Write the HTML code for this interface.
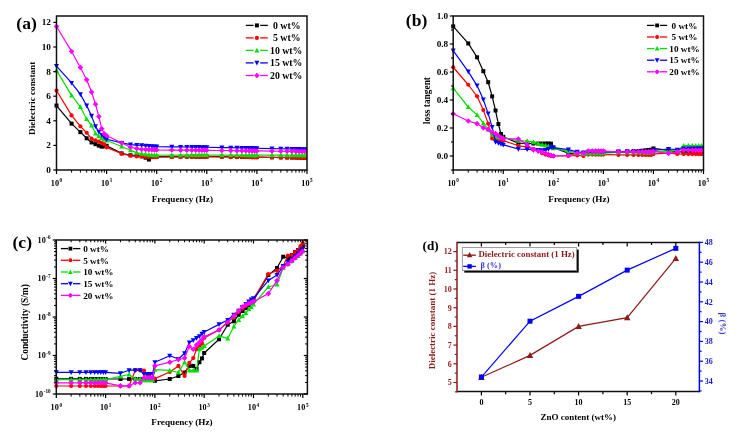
<!DOCTYPE html><html><head><meta charset="utf-8"><style>html,body{margin:0;padding:0;background:#fff;}body{width:740px;height:438px;overflow:hidden;font-family:"Liberation Serif",serif;}svg{display:block;will-change:transform;}</style></head><body><svg width="740" height="438" viewBox="0 0 740 438"><rect width="740" height="438" fill="#fff"/><clipPath id="ca"><rect x="53.5" y="16.0" width="253.5" height="154.0"/></clipPath><g clip-path="url(#ca)"><polyline points="56.50,105.55 71.58,123.63 80.40,132.12 86.66,138.27 91.52,142.45 95.49,144.17 98.84,145.65 101.74,146.63 104.31,146.38 106.60,145.77 121.68,153.40 130.50,155.24 136.76,155.36 141.62,156.22 145.59,157.70 148.94,159.54 151.84,157.09 154.41,156.84 156.70,156.72 171.78,156.64 180.60,156.60 186.86,156.57 191.72,156.54 195.69,156.52 199.04,156.51 201.94,156.49 204.51,156.48 206.80,156.47 221.88,156.66 230.70,156.76 236.96,156.84 241.82,156.90 245.79,156.95 249.14,156.99 252.04,157.03 254.61,157.06 256.90,157.09 271.98,157.27 280.80,157.38 287.06,157.46 291.92,157.51 295.89,157.56 299.24,157.60 302.14,157.64 304.71,157.67 307.00,157.70" fill="none" stroke="#000000" stroke-width="1.2" stroke-linejoin="round"/><rect x="54.50" y="103.55" width="4.00" height="4.00" fill="#000000"/><rect x="69.58" y="121.63" width="4.00" height="4.00" fill="#000000"/><rect x="78.40" y="130.12" width="4.00" height="4.00" fill="#000000"/><rect x="84.66" y="136.27" width="4.00" height="4.00" fill="#000000"/><rect x="89.52" y="140.45" width="4.00" height="4.00" fill="#000000"/><rect x="93.49" y="142.17" width="4.00" height="4.00" fill="#000000"/><rect x="96.84" y="143.65" width="4.00" height="4.00" fill="#000000"/><rect x="99.74" y="144.63" width="4.00" height="4.00" fill="#000000"/><rect x="102.31" y="144.38" width="4.00" height="4.00" fill="#000000"/><rect x="104.60" y="143.77" width="4.00" height="4.00" fill="#000000"/><rect x="119.68" y="151.40" width="4.00" height="4.00" fill="#000000"/><rect x="128.50" y="153.24" width="4.00" height="4.00" fill="#000000"/><rect x="134.76" y="153.36" width="4.00" height="4.00" fill="#000000"/><rect x="139.62" y="154.22" width="4.00" height="4.00" fill="#000000"/><rect x="143.59" y="155.70" width="4.00" height="4.00" fill="#000000"/><rect x="146.94" y="157.54" width="4.00" height="4.00" fill="#000000"/><rect x="149.84" y="155.09" width="4.00" height="4.00" fill="#000000"/><rect x="152.41" y="154.84" width="4.00" height="4.00" fill="#000000"/><rect x="154.70" y="154.72" width="4.00" height="4.00" fill="#000000"/><rect x="169.78" y="154.64" width="4.00" height="4.00" fill="#000000"/><rect x="178.60" y="154.60" width="4.00" height="4.00" fill="#000000"/><rect x="184.86" y="154.57" width="4.00" height="4.00" fill="#000000"/><rect x="189.72" y="154.54" width="4.00" height="4.00" fill="#000000"/><rect x="193.69" y="154.52" width="4.00" height="4.00" fill="#000000"/><rect x="197.04" y="154.51" width="4.00" height="4.00" fill="#000000"/><rect x="199.94" y="154.49" width="4.00" height="4.00" fill="#000000"/><rect x="202.51" y="154.48" width="4.00" height="4.00" fill="#000000"/><rect x="204.80" y="154.47" width="4.00" height="4.00" fill="#000000"/><rect x="219.88" y="154.66" width="4.00" height="4.00" fill="#000000"/><rect x="228.70" y="154.76" width="4.00" height="4.00" fill="#000000"/><rect x="234.96" y="154.84" width="4.00" height="4.00" fill="#000000"/><rect x="239.82" y="154.90" width="4.00" height="4.00" fill="#000000"/><rect x="243.79" y="154.95" width="4.00" height="4.00" fill="#000000"/><rect x="247.14" y="154.99" width="4.00" height="4.00" fill="#000000"/><rect x="250.04" y="155.03" width="4.00" height="4.00" fill="#000000"/><rect x="252.61" y="155.06" width="4.00" height="4.00" fill="#000000"/><rect x="254.90" y="155.09" width="4.00" height="4.00" fill="#000000"/><rect x="269.98" y="155.27" width="4.00" height="4.00" fill="#000000"/><rect x="278.80" y="155.38" width="4.00" height="4.00" fill="#000000"/><rect x="285.06" y="155.46" width="4.00" height="4.00" fill="#000000"/><rect x="289.92" y="155.51" width="4.00" height="4.00" fill="#000000"/><rect x="293.89" y="155.56" width="4.00" height="4.00" fill="#000000"/><rect x="297.24" y="155.60" width="4.00" height="4.00" fill="#000000"/><rect x="300.14" y="155.64" width="4.00" height="4.00" fill="#000000"/><rect x="302.71" y="155.67" width="4.00" height="4.00" fill="#000000"/><rect x="305.00" y="155.70" width="4.00" height="4.00" fill="#000000"/><polyline points="56.50,90.54 71.58,115.39 80.40,126.34 86.66,132.73 91.52,138.63 95.49,140.23 98.84,141.71 101.74,142.94 104.31,144.17 106.60,147.37 121.68,153.64 130.50,155.73 136.76,156.47 141.62,156.72 145.59,156.81 148.94,156.90 151.84,156.97 154.41,157.03 156.70,157.09 171.78,157.01 180.60,156.97 186.86,156.94 191.72,156.91 195.69,156.89 199.04,156.88 201.94,156.86 204.51,156.85 206.80,156.84 221.88,156.99 230.70,157.07 236.96,157.14 241.82,157.18 245.79,157.22 249.14,157.25 252.04,157.28 254.61,157.31 256.90,157.33 271.98,157.48 280.80,157.57 287.06,157.63 291.92,157.67 295.89,157.71 299.24,157.75 302.14,157.78 304.71,157.80 307.00,157.82" fill="none" stroke="#ff0000" stroke-width="1.2" stroke-linejoin="round"/><circle cx="56.50" cy="90.54" r="2.10" fill="#ff0000"/><circle cx="71.58" cy="115.39" r="2.10" fill="#ff0000"/><circle cx="80.40" cy="126.34" r="2.10" fill="#ff0000"/><circle cx="86.66" cy="132.73" r="2.10" fill="#ff0000"/><circle cx="91.52" cy="138.63" r="2.10" fill="#ff0000"/><circle cx="95.49" cy="140.23" r="2.10" fill="#ff0000"/><circle cx="98.84" cy="141.71" r="2.10" fill="#ff0000"/><circle cx="101.74" cy="142.94" r="2.10" fill="#ff0000"/><circle cx="104.31" cy="144.17" r="2.10" fill="#ff0000"/><circle cx="106.60" cy="147.37" r="2.10" fill="#ff0000"/><circle cx="121.68" cy="153.64" r="2.10" fill="#ff0000"/><circle cx="130.50" cy="155.73" r="2.10" fill="#ff0000"/><circle cx="136.76" cy="156.47" r="2.10" fill="#ff0000"/><circle cx="141.62" cy="156.72" r="2.10" fill="#ff0000"/><circle cx="145.59" cy="156.81" r="2.10" fill="#ff0000"/><circle cx="148.94" cy="156.90" r="2.10" fill="#ff0000"/><circle cx="151.84" cy="156.97" r="2.10" fill="#ff0000"/><circle cx="154.41" cy="157.03" r="2.10" fill="#ff0000"/><circle cx="156.70" cy="157.09" r="2.10" fill="#ff0000"/><circle cx="171.78" cy="157.01" r="2.10" fill="#ff0000"/><circle cx="180.60" cy="156.97" r="2.10" fill="#ff0000"/><circle cx="186.86" cy="156.94" r="2.10" fill="#ff0000"/><circle cx="191.72" cy="156.91" r="2.10" fill="#ff0000"/><circle cx="195.69" cy="156.89" r="2.10" fill="#ff0000"/><circle cx="199.04" cy="156.88" r="2.10" fill="#ff0000"/><circle cx="201.94" cy="156.86" r="2.10" fill="#ff0000"/><circle cx="204.51" cy="156.85" r="2.10" fill="#ff0000"/><circle cx="206.80" cy="156.84" r="2.10" fill="#ff0000"/><circle cx="221.88" cy="156.99" r="2.10" fill="#ff0000"/><circle cx="230.70" cy="157.07" r="2.10" fill="#ff0000"/><circle cx="236.96" cy="157.14" r="2.10" fill="#ff0000"/><circle cx="241.82" cy="157.18" r="2.10" fill="#ff0000"/><circle cx="245.79" cy="157.22" r="2.10" fill="#ff0000"/><circle cx="249.14" cy="157.25" r="2.10" fill="#ff0000"/><circle cx="252.04" cy="157.28" r="2.10" fill="#ff0000"/><circle cx="254.61" cy="157.31" r="2.10" fill="#ff0000"/><circle cx="256.90" cy="157.33" r="2.10" fill="#ff0000"/><circle cx="271.98" cy="157.48" r="2.10" fill="#ff0000"/><circle cx="280.80" cy="157.57" r="2.10" fill="#ff0000"/><circle cx="287.06" cy="157.63" r="2.10" fill="#ff0000"/><circle cx="291.92" cy="157.67" r="2.10" fill="#ff0000"/><circle cx="295.89" cy="157.71" r="2.10" fill="#ff0000"/><circle cx="299.24" cy="157.75" r="2.10" fill="#ff0000"/><circle cx="302.14" cy="157.78" r="2.10" fill="#ff0000"/><circle cx="304.71" cy="157.80" r="2.10" fill="#ff0000"/><circle cx="307.00" cy="157.82" r="2.10" fill="#ff0000"/><polyline points="56.50,70.37 71.58,95.34 80.40,106.90 86.66,119.08 91.52,125.47 95.49,133.35 98.84,136.18 101.74,138.02 104.31,139.25 106.60,140.48 121.68,146.51 130.50,150.32 136.76,152.66 141.62,153.76 145.59,154.26 148.94,154.62 151.84,154.99 154.41,155.24 156.70,155.24 171.78,155.17 180.60,155.12 186.86,155.09 191.72,155.07 195.69,155.05 199.04,155.03 201.94,155.02 204.51,155.01 206.80,154.99 221.88,155.03 230.70,155.05 236.96,155.07 241.82,155.08 245.79,155.09 249.14,155.10 252.04,155.11 254.61,155.11 256.90,155.12 271.98,155.15 280.80,155.18 287.06,155.19 291.92,155.20 295.89,155.21 299.24,155.22 302.14,155.23 304.71,155.23 307.00,155.24" fill="none" stroke="#00e000" stroke-width="1.2" stroke-linejoin="round"/><path d="M56.50,67.67L59.00,72.41L54.00,72.41Z" fill="#00e000"/><path d="M71.58,92.64L74.08,97.38L69.08,97.38Z" fill="#00e000"/><path d="M80.40,104.20L82.90,108.94L77.90,108.94Z" fill="#00e000"/><path d="M86.66,116.38L89.16,121.12L84.16,121.12Z" fill="#00e000"/><path d="M91.52,122.77L94.02,127.51L89.02,127.51Z" fill="#00e000"/><path d="M95.49,130.65L97.99,135.39L92.99,135.39Z" fill="#00e000"/><path d="M98.84,133.47L101.34,138.22L96.34,138.22Z" fill="#00e000"/><path d="M101.74,135.32L104.24,140.06L99.24,140.06Z" fill="#00e000"/><path d="M104.31,136.55L106.81,141.29L101.81,141.29Z" fill="#00e000"/><path d="M106.60,137.78L109.10,142.52L104.10,142.52Z" fill="#00e000"/><path d="M121.68,143.81L124.18,148.55L119.18,148.55Z" fill="#00e000"/><path d="M130.50,147.62L133.00,152.36L128.00,152.36Z" fill="#00e000"/><path d="M136.76,149.96L139.26,154.70L134.26,154.70Z" fill="#00e000"/><path d="M141.62,151.06L144.12,155.80L139.12,155.80Z" fill="#00e000"/><path d="M145.59,151.56L148.09,156.30L143.09,156.30Z" fill="#00e000"/><path d="M148.94,151.92L151.44,156.66L146.44,156.66Z" fill="#00e000"/><path d="M151.84,152.29L154.34,157.03L149.34,157.03Z" fill="#00e000"/><path d="M154.41,152.54L156.91,157.28L151.91,157.28Z" fill="#00e000"/><path d="M156.70,152.54L159.20,157.28L154.20,157.28Z" fill="#00e000"/><path d="M171.78,152.47L174.28,157.21L169.28,157.21Z" fill="#00e000"/><path d="M180.60,152.42L183.10,157.16L178.10,157.16Z" fill="#00e000"/><path d="M186.86,152.39L189.36,157.13L184.36,157.13Z" fill="#00e000"/><path d="M191.72,152.37L194.22,157.11L189.22,157.11Z" fill="#00e000"/><path d="M195.69,152.35L198.19,157.09L193.19,157.09Z" fill="#00e000"/><path d="M199.04,152.33L201.54,157.07L196.54,157.07Z" fill="#00e000"/><path d="M201.94,152.32L204.44,157.06L199.44,157.06Z" fill="#00e000"/><path d="M204.51,152.31L207.01,157.05L202.01,157.05Z" fill="#00e000"/><path d="M206.80,152.29L209.30,157.03L204.30,157.03Z" fill="#00e000"/><path d="M221.88,152.33L224.38,157.07L219.38,157.07Z" fill="#00e000"/><path d="M230.70,152.35L233.20,157.09L228.20,157.09Z" fill="#00e000"/><path d="M236.96,152.37L239.46,157.11L234.46,157.11Z" fill="#00e000"/><path d="M241.82,152.38L244.32,157.12L239.32,157.12Z" fill="#00e000"/><path d="M245.79,152.39L248.29,157.13L243.29,157.13Z" fill="#00e000"/><path d="M249.14,152.40L251.64,157.14L246.64,157.14Z" fill="#00e000"/><path d="M252.04,152.41L254.54,157.15L249.54,157.15Z" fill="#00e000"/><path d="M254.61,152.41L257.11,157.15L252.11,157.15Z" fill="#00e000"/><path d="M256.90,152.42L259.40,157.16L254.40,157.16Z" fill="#00e000"/><path d="M271.98,152.45L274.48,157.19L269.48,157.19Z" fill="#00e000"/><path d="M280.80,152.48L283.30,157.22L278.30,157.22Z" fill="#00e000"/><path d="M287.06,152.49L289.56,157.23L284.56,157.23Z" fill="#00e000"/><path d="M291.92,152.50L294.42,157.24L289.42,157.24Z" fill="#00e000"/><path d="M295.89,152.51L298.39,157.25L293.39,157.25Z" fill="#00e000"/><path d="M299.24,152.52L301.74,157.26L296.74,157.26Z" fill="#00e000"/><path d="M302.14,152.53L304.64,157.27L299.64,157.27Z" fill="#00e000"/><path d="M304.71,152.53L307.21,157.27L302.21,157.27Z" fill="#00e000"/><path d="M307.00,152.54L309.50,157.28L304.50,157.28Z" fill="#00e000"/><polyline points="56.50,66.06 71.58,82.92 80.40,94.35 86.66,105.55 91.52,115.88 95.49,126.34 98.84,131.87 101.74,134.94 104.31,137.41 106.60,139.25 121.68,142.94 130.50,144.54 136.76,145.03 141.62,145.40 145.59,145.72 148.94,146.00 151.84,146.23 154.41,146.44 156.70,146.63 171.78,146.82 180.60,146.92 186.86,147.00 191.72,147.06 195.69,147.11 199.04,147.15 201.94,147.19 204.51,147.22 206.80,147.25 221.88,147.54 230.70,147.71 236.96,147.84 241.82,147.93 245.79,148.01 249.14,148.08 252.04,148.13 254.61,148.18 256.90,148.23 271.98,148.56 280.80,148.76 287.06,148.90 291.92,149.00 295.89,149.09 299.24,149.16 302.14,149.23 304.71,149.29 307.00,149.34" fill="none" stroke="#0000ff" stroke-width="1.2" stroke-linejoin="round"/><path d="M56.50,68.77L59.00,64.02L54.00,64.02Z" fill="#0000ff"/><path d="M71.58,85.62L74.08,80.88L69.08,80.88Z" fill="#0000ff"/><path d="M80.40,97.05L82.90,92.31L77.90,92.31Z" fill="#0000ff"/><path d="M86.66,108.25L89.16,103.51L84.16,103.51Z" fill="#0000ff"/><path d="M91.52,118.58L94.02,113.84L89.02,113.84Z" fill="#0000ff"/><path d="M95.49,129.04L97.99,124.30L92.99,124.30Z" fill="#0000ff"/><path d="M98.84,134.57L101.34,129.83L96.34,129.83Z" fill="#0000ff"/><path d="M101.74,137.65L104.24,132.91L99.24,132.91Z" fill="#0000ff"/><path d="M104.31,140.11L106.81,135.37L101.81,135.37Z" fill="#0000ff"/><path d="M106.60,141.95L109.10,137.21L104.10,137.21Z" fill="#0000ff"/><path d="M121.68,145.64L124.18,140.90L119.18,140.90Z" fill="#0000ff"/><path d="M130.50,147.24L133.00,142.50L128.00,142.50Z" fill="#0000ff"/><path d="M136.76,147.73L139.26,142.99L134.26,142.99Z" fill="#0000ff"/><path d="M141.62,148.10L144.12,143.36L139.12,143.36Z" fill="#0000ff"/><path d="M145.59,148.42L148.09,143.68L143.09,143.68Z" fill="#0000ff"/><path d="M148.94,148.70L151.44,143.96L146.44,143.96Z" fill="#0000ff"/><path d="M151.84,148.93L154.34,144.19L149.34,144.19Z" fill="#0000ff"/><path d="M154.41,149.14L156.91,144.40L151.91,144.40Z" fill="#0000ff"/><path d="M156.70,149.33L159.20,144.59L154.20,144.59Z" fill="#0000ff"/><path d="M171.78,149.52L174.28,144.78L169.28,144.78Z" fill="#0000ff"/><path d="M180.60,149.62L183.10,144.88L178.10,144.88Z" fill="#0000ff"/><path d="M186.86,149.70L189.36,144.96L184.36,144.96Z" fill="#0000ff"/><path d="M191.72,149.76L194.22,145.02L189.22,145.02Z" fill="#0000ff"/><path d="M195.69,149.81L198.19,145.07L193.19,145.07Z" fill="#0000ff"/><path d="M199.04,149.85L201.54,145.11L196.54,145.11Z" fill="#0000ff"/><path d="M201.94,149.89L204.44,145.15L199.44,145.15Z" fill="#0000ff"/><path d="M204.51,149.92L207.01,145.18L202.01,145.18Z" fill="#0000ff"/><path d="M206.80,149.95L209.30,145.21L204.30,145.21Z" fill="#0000ff"/><path d="M221.88,150.24L224.38,145.50L219.38,145.50Z" fill="#0000ff"/><path d="M230.70,150.41L233.20,145.67L228.20,145.67Z" fill="#0000ff"/><path d="M236.96,150.54L239.46,145.80L234.46,145.80Z" fill="#0000ff"/><path d="M241.82,150.63L244.32,145.89L239.32,145.89Z" fill="#0000ff"/><path d="M245.79,150.71L248.29,145.97L243.29,145.97Z" fill="#0000ff"/><path d="M249.14,150.78L251.64,146.04L246.64,146.04Z" fill="#0000ff"/><path d="M252.04,150.83L254.54,146.09L249.54,146.09Z" fill="#0000ff"/><path d="M254.61,150.88L257.11,146.14L252.11,146.14Z" fill="#0000ff"/><path d="M256.90,150.93L259.40,146.19L254.40,146.19Z" fill="#0000ff"/><path d="M271.98,151.26L274.48,146.52L269.48,146.52Z" fill="#0000ff"/><path d="M280.80,151.46L283.30,146.72L278.30,146.72Z" fill="#0000ff"/><path d="M287.06,151.60L289.56,146.86L284.56,146.86Z" fill="#0000ff"/><path d="M291.92,151.70L294.42,146.96L289.42,146.96Z" fill="#0000ff"/><path d="M295.89,151.79L298.39,147.05L293.39,147.05Z" fill="#0000ff"/><path d="M299.24,151.86L301.74,147.12L296.74,147.12Z" fill="#0000ff"/><path d="M302.14,151.93L304.64,147.19L299.64,147.19Z" fill="#0000ff"/><path d="M304.71,151.99L307.21,147.25L302.21,147.25Z" fill="#0000ff"/><path d="M307.00,152.04L309.50,147.30L304.50,147.30Z" fill="#0000ff"/><polyline points="56.50,26.46 71.58,51.43 80.40,67.42 86.66,79.84 91.52,92.02 95.49,104.20 98.84,116.50 101.74,128.67 104.31,133.72 106.60,135.56 121.68,143.06 130.50,147.25 136.76,148.60 141.62,149.34 145.59,149.50 148.94,149.63 151.84,149.75 154.41,149.86 156.70,149.95 171.78,150.06 180.60,150.13 186.86,150.17 191.72,150.21 195.69,150.24 199.04,150.26 201.94,150.28 204.51,150.30 206.80,150.32 221.88,150.51 230.70,150.61 236.96,150.69 241.82,150.75 245.79,150.80 249.14,150.84 252.04,150.88 254.61,150.91 256.90,150.94 271.98,151.12 280.80,151.23 287.06,151.31 291.92,151.36 295.89,151.41 299.24,151.45 302.14,151.49 304.71,151.52 307.00,151.55" fill="none" stroke="#ff00ff" stroke-width="1.2" stroke-linejoin="round"/><path d="M56.50,23.66L59.30,26.46L56.50,29.26L53.70,26.46Z" fill="#ff00ff"/><path d="M71.58,48.63L74.38,51.43L71.58,54.23L68.78,51.43Z" fill="#ff00ff"/><path d="M80.40,64.62L83.20,67.42L80.40,70.22L77.60,67.42Z" fill="#ff00ff"/><path d="M86.66,77.04L89.46,79.84L86.66,82.64L83.86,79.84Z" fill="#ff00ff"/><path d="M91.52,89.22L94.32,92.02L91.52,94.82L88.72,92.02Z" fill="#ff00ff"/><path d="M95.49,101.40L98.29,104.20L95.49,107.00L92.69,104.20Z" fill="#ff00ff"/><path d="M98.84,113.70L101.64,116.50L98.84,119.30L96.04,116.50Z" fill="#ff00ff"/><path d="M101.74,125.87L104.54,128.67L101.74,131.47L98.94,128.67Z" fill="#ff00ff"/><path d="M104.31,130.91L107.11,133.72L104.31,136.52L101.51,133.72Z" fill="#ff00ff"/><path d="M106.60,132.76L109.40,135.56L106.60,138.36L103.80,135.56Z" fill="#ff00ff"/><path d="M121.68,140.26L124.48,143.06L121.68,145.86L118.88,143.06Z" fill="#ff00ff"/><path d="M130.50,144.44L133.30,147.25L130.50,150.05L127.70,147.25Z" fill="#ff00ff"/><path d="M136.76,145.80L139.56,148.60L136.76,151.40L133.96,148.60Z" fill="#ff00ff"/><path d="M141.62,146.54L144.42,149.34L141.62,152.14L138.82,149.34Z" fill="#ff00ff"/><path d="M145.59,146.70L148.39,149.50L145.59,152.30L142.79,149.50Z" fill="#ff00ff"/><path d="M148.94,146.83L151.74,149.63L148.94,152.43L146.14,149.63Z" fill="#ff00ff"/><path d="M151.84,146.95L154.64,149.75L151.84,152.55L149.04,149.75Z" fill="#ff00ff"/><path d="M154.41,147.06L157.21,149.86L154.41,152.66L151.61,149.86Z" fill="#ff00ff"/><path d="M156.70,147.15L159.50,149.95L156.70,152.75L153.90,149.95Z" fill="#ff00ff"/><path d="M171.78,147.26L174.58,150.06L171.78,152.86L168.98,150.06Z" fill="#ff00ff"/><path d="M180.60,147.33L183.40,150.13L180.60,152.93L177.80,150.13Z" fill="#ff00ff"/><path d="M186.86,147.37L189.66,150.17L186.86,152.97L184.06,150.17Z" fill="#ff00ff"/><path d="M191.72,147.41L194.52,150.21L191.72,153.01L188.92,150.21Z" fill="#ff00ff"/><path d="M195.69,147.44L198.49,150.24L195.69,153.04L192.89,150.24Z" fill="#ff00ff"/><path d="M199.04,147.46L201.84,150.26L199.04,153.06L196.24,150.26Z" fill="#ff00ff"/><path d="M201.94,147.48L204.74,150.28L201.94,153.08L199.14,150.28Z" fill="#ff00ff"/><path d="M204.51,147.50L207.31,150.30L204.51,153.10L201.71,150.30Z" fill="#ff00ff"/><path d="M206.80,147.52L209.60,150.32L206.80,153.12L204.00,150.32Z" fill="#ff00ff"/><path d="M221.88,147.71L224.68,150.51L221.88,153.31L219.08,150.51Z" fill="#ff00ff"/><path d="M230.70,147.81L233.50,150.61L230.70,153.41L227.90,150.61Z" fill="#ff00ff"/><path d="M236.96,147.89L239.76,150.69L236.96,153.49L234.16,150.69Z" fill="#ff00ff"/><path d="M241.82,147.95L244.62,150.75L241.82,153.55L239.02,150.75Z" fill="#ff00ff"/><path d="M245.79,148.00L248.59,150.80L245.79,153.60L242.99,150.80Z" fill="#ff00ff"/><path d="M249.14,148.04L251.94,150.84L249.14,153.64L246.34,150.84Z" fill="#ff00ff"/><path d="M252.04,148.08L254.84,150.88L252.04,153.68L249.24,150.88Z" fill="#ff00ff"/><path d="M254.61,148.11L257.41,150.91L254.61,153.71L251.81,150.91Z" fill="#ff00ff"/><path d="M256.90,148.13L259.70,150.94L256.90,153.74L254.10,150.94Z" fill="#ff00ff"/><path d="M271.98,148.32L274.78,151.12L271.98,153.92L269.18,151.12Z" fill="#ff00ff"/><path d="M280.80,148.43L283.60,151.23L280.80,154.03L278.00,151.23Z" fill="#ff00ff"/><path d="M287.06,148.51L289.86,151.31L287.06,154.11L284.26,151.31Z" fill="#ff00ff"/><path d="M291.92,148.56L294.72,151.36L291.92,154.16L289.12,151.36Z" fill="#ff00ff"/><path d="M295.89,148.61L298.69,151.41L295.89,154.21L293.09,151.41Z" fill="#ff00ff"/><path d="M299.24,148.65L302.04,151.45L299.24,154.25L296.44,151.45Z" fill="#ff00ff"/><path d="M302.14,148.69L304.94,151.49L302.14,154.29L299.34,151.49Z" fill="#ff00ff"/><path d="M304.71,148.72L307.51,151.52L304.71,154.32L301.91,151.52Z" fill="#ff00ff"/><path d="M307.00,148.75L309.80,151.55L307.00,154.35L304.20,151.55Z" fill="#ff00ff"/></g><rect x="56.5" y="16.0" width="250.5" height="154.0" fill="none" stroke="#111" stroke-width="1.5"/><line x1="53.3" y1="170.00" x2="56.5" y2="170.00" stroke="#000" stroke-width="1.2"/><text x="0.00" y="0.00" font-size="8.2" text-anchor="end" fill="#000" font-family="Liberation Serif, serif" font-weight="bold" transform="translate(51.00,172.90) scale(1.13,1)">0</text><line x1="53.3" y1="145.40" x2="56.5" y2="145.40" stroke="#000" stroke-width="1.2"/><text x="0.00" y="0.00" font-size="8.2" text-anchor="end" fill="#000" font-family="Liberation Serif, serif" font-weight="bold" transform="translate(51.00,148.30) scale(1.13,1)">2</text><line x1="53.3" y1="120.80" x2="56.5" y2="120.80" stroke="#000" stroke-width="1.2"/><text x="0.00" y="0.00" font-size="8.2" text-anchor="end" fill="#000" font-family="Liberation Serif, serif" font-weight="bold" transform="translate(51.00,123.70) scale(1.13,1)">4</text><line x1="53.3" y1="96.20" x2="56.5" y2="96.20" stroke="#000" stroke-width="1.2"/><text x="0.00" y="0.00" font-size="8.2" text-anchor="end" fill="#000" font-family="Liberation Serif, serif" font-weight="bold" transform="translate(51.00,99.10) scale(1.13,1)">6</text><line x1="53.3" y1="71.60" x2="56.5" y2="71.60" stroke="#000" stroke-width="1.2"/><text x="0.00" y="0.00" font-size="8.2" text-anchor="end" fill="#000" font-family="Liberation Serif, serif" font-weight="bold" transform="translate(51.00,74.50) scale(1.13,1)">8</text><line x1="53.3" y1="47.00" x2="56.5" y2="47.00" stroke="#000" stroke-width="1.2"/><text x="0.00" y="0.00" font-size="8.2" text-anchor="end" fill="#000" font-family="Liberation Serif, serif" font-weight="bold" transform="translate(51.00,49.90) scale(1.13,1)">10</text><line x1="53.3" y1="22.40" x2="56.5" y2="22.40" stroke="#000" stroke-width="1.2"/><text x="0.00" y="0.00" font-size="8.2" text-anchor="end" fill="#000" font-family="Liberation Serif, serif" font-weight="bold" transform="translate(51.00,25.30) scale(1.13,1)">12</text><line x1="56.50" y1="170.00" x2="56.50" y2="174.00" stroke="#000" stroke-width="1.2"/><line x1="71.58" y1="170.00" x2="71.58" y2="172.60" stroke="#000" stroke-width="1"/><line x1="80.40" y1="170.00" x2="80.40" y2="172.60" stroke="#000" stroke-width="1"/><line x1="86.66" y1="170.00" x2="86.66" y2="172.60" stroke="#000" stroke-width="1"/><line x1="91.52" y1="170.00" x2="91.52" y2="172.60" stroke="#000" stroke-width="1"/><line x1="95.49" y1="170.00" x2="95.49" y2="172.60" stroke="#000" stroke-width="1"/><line x1="98.84" y1="170.00" x2="98.84" y2="172.60" stroke="#000" stroke-width="1"/><line x1="101.74" y1="170.00" x2="101.74" y2="172.60" stroke="#000" stroke-width="1"/><line x1="104.31" y1="170.00" x2="104.31" y2="172.60" stroke="#000" stroke-width="1"/><line x1="106.60" y1="170.00" x2="106.60" y2="174.00" stroke="#000" stroke-width="1.2"/><line x1="121.68" y1="170.00" x2="121.68" y2="172.60" stroke="#000" stroke-width="1"/><line x1="130.50" y1="170.00" x2="130.50" y2="172.60" stroke="#000" stroke-width="1"/><line x1="136.76" y1="170.00" x2="136.76" y2="172.60" stroke="#000" stroke-width="1"/><line x1="141.62" y1="170.00" x2="141.62" y2="172.60" stroke="#000" stroke-width="1"/><line x1="145.59" y1="170.00" x2="145.59" y2="172.60" stroke="#000" stroke-width="1"/><line x1="148.94" y1="170.00" x2="148.94" y2="172.60" stroke="#000" stroke-width="1"/><line x1="151.84" y1="170.00" x2="151.84" y2="172.60" stroke="#000" stroke-width="1"/><line x1="154.41" y1="170.00" x2="154.41" y2="172.60" stroke="#000" stroke-width="1"/><line x1="156.70" y1="170.00" x2="156.70" y2="174.00" stroke="#000" stroke-width="1.2"/><line x1="171.78" y1="170.00" x2="171.78" y2="172.60" stroke="#000" stroke-width="1"/><line x1="180.60" y1="170.00" x2="180.60" y2="172.60" stroke="#000" stroke-width="1"/><line x1="186.86" y1="170.00" x2="186.86" y2="172.60" stroke="#000" stroke-width="1"/><line x1="191.72" y1="170.00" x2="191.72" y2="172.60" stroke="#000" stroke-width="1"/><line x1="195.69" y1="170.00" x2="195.69" y2="172.60" stroke="#000" stroke-width="1"/><line x1="199.04" y1="170.00" x2="199.04" y2="172.60" stroke="#000" stroke-width="1"/><line x1="201.94" y1="170.00" x2="201.94" y2="172.60" stroke="#000" stroke-width="1"/><line x1="204.51" y1="170.00" x2="204.51" y2="172.60" stroke="#000" stroke-width="1"/><line x1="206.80" y1="170.00" x2="206.80" y2="174.00" stroke="#000" stroke-width="1.2"/><line x1="221.88" y1="170.00" x2="221.88" y2="172.60" stroke="#000" stroke-width="1"/><line x1="230.70" y1="170.00" x2="230.70" y2="172.60" stroke="#000" stroke-width="1"/><line x1="236.96" y1="170.00" x2="236.96" y2="172.60" stroke="#000" stroke-width="1"/><line x1="241.82" y1="170.00" x2="241.82" y2="172.60" stroke="#000" stroke-width="1"/><line x1="245.79" y1="170.00" x2="245.79" y2="172.60" stroke="#000" stroke-width="1"/><line x1="249.14" y1="170.00" x2="249.14" y2="172.60" stroke="#000" stroke-width="1"/><line x1="252.04" y1="170.00" x2="252.04" y2="172.60" stroke="#000" stroke-width="1"/><line x1="254.61" y1="170.00" x2="254.61" y2="172.60" stroke="#000" stroke-width="1"/><line x1="256.90" y1="170.00" x2="256.90" y2="174.00" stroke="#000" stroke-width="1.2"/><line x1="271.98" y1="170.00" x2="271.98" y2="172.60" stroke="#000" stroke-width="1"/><line x1="280.80" y1="170.00" x2="280.80" y2="172.60" stroke="#000" stroke-width="1"/><line x1="287.06" y1="170.00" x2="287.06" y2="172.60" stroke="#000" stroke-width="1"/><line x1="291.92" y1="170.00" x2="291.92" y2="172.60" stroke="#000" stroke-width="1"/><line x1="295.89" y1="170.00" x2="295.89" y2="172.60" stroke="#000" stroke-width="1"/><line x1="299.24" y1="170.00" x2="299.24" y2="172.60" stroke="#000" stroke-width="1"/><line x1="302.14" y1="170.00" x2="302.14" y2="172.60" stroke="#000" stroke-width="1"/><line x1="304.71" y1="170.00" x2="304.71" y2="172.60" stroke="#000" stroke-width="1"/><line x1="307.00" y1="170.00" x2="307.00" y2="174.00" stroke="#000" stroke-width="1.2"/><text x="50.80" y="185.50" font-size="8.2" fill="#000" font-family="Liberation Serif, serif" font-weight="bold">10<tspan font-size="5.2" dy="-3.44" dx="0.6">0</tspan></text><text x="100.90" y="185.50" font-size="8.2" fill="#000" font-family="Liberation Serif, serif" font-weight="bold">10<tspan font-size="5.2" dy="-3.44" dx="0.6">1</tspan></text><text x="151.00" y="185.50" font-size="8.2" fill="#000" font-family="Liberation Serif, serif" font-weight="bold">10<tspan font-size="5.2" dy="-3.44" dx="0.6">2</tspan></text><text x="201.10" y="185.50" font-size="8.2" fill="#000" font-family="Liberation Serif, serif" font-weight="bold">10<tspan font-size="5.2" dy="-3.44" dx="0.6">3</tspan></text><text x="251.20" y="185.50" font-size="8.2" fill="#000" font-family="Liberation Serif, serif" font-weight="bold">10<tspan font-size="5.2" dy="-3.44" dx="0.6">4</tspan></text><text x="301.30" y="185.50" font-size="8.2" fill="#000" font-family="Liberation Serif, serif" font-weight="bold">10<tspan font-size="5.2" dy="-3.44" dx="0.6">5</tspan></text><text x="182.30" y="201.50" font-size="9.2" text-anchor="middle" fill="#000" font-family="Liberation Serif, serif" font-weight="bold" >Frequency (Hz)</text><text x="0.00" y="0.00" font-size="9.2" text-anchor="middle" fill="#000" font-family="Liberation Serif, serif" font-weight="bold" transform="translate(35.2,98.4) rotate(-90)">Dielectric constant</text><text x="16.30" y="28.60" font-size="17.6" text-anchor="start" fill="#000" font-family="Liberation Serif, serif" font-weight="bold" >(a)</text><line x1="245.8" y1="25.4" x2="253.6" y2="25.4" stroke="#000000" stroke-width="1.3"/><line x1="260.2" y1="25.4" x2="267.8" y2="25.4" stroke="#000000" stroke-width="1.3"/><rect x="254.90" y="23.40" width="4.00" height="4.00" fill="#000000"/><text x="273.00" y="28.80" font-size="9.8" text-anchor="start" fill="#000" font-family="Liberation Serif, serif" font-weight="bold" >0 wt%</text><line x1="245.8" y1="37.9" x2="253.6" y2="37.9" stroke="#ff0000" stroke-width="1.3"/><line x1="260.2" y1="37.9" x2="267.8" y2="37.9" stroke="#ff0000" stroke-width="1.3"/><circle cx="256.90" cy="37.90" r="2.10" fill="#ff0000"/><text x="273.00" y="41.30" font-size="9.8" text-anchor="start" fill="#000" font-family="Liberation Serif, serif" font-weight="bold" >5 wt%</text><line x1="245.8" y1="50.4" x2="253.6" y2="50.4" stroke="#00e000" stroke-width="1.3"/><line x1="260.2" y1="50.4" x2="267.8" y2="50.4" stroke="#00e000" stroke-width="1.3"/><path d="M256.90,47.70L259.40,52.44L254.40,52.44Z" fill="#00e000"/><text x="270.00" y="53.80" font-size="9.8" text-anchor="start" fill="#000" font-family="Liberation Serif, serif" font-weight="bold" >10 wt%</text><line x1="245.8" y1="62.9" x2="253.6" y2="62.9" stroke="#0000ff" stroke-width="1.3"/><line x1="260.2" y1="62.9" x2="267.8" y2="62.9" stroke="#0000ff" stroke-width="1.3"/><path d="M256.90,65.60L259.40,60.86L254.40,60.86Z" fill="#0000ff"/><text x="270.00" y="66.30" font-size="9.8" text-anchor="start" fill="#000" font-family="Liberation Serif, serif" font-weight="bold" >15 wt%</text><line x1="245.8" y1="75.5" x2="253.6" y2="75.5" stroke="#ff00ff" stroke-width="1.3"/><line x1="260.2" y1="75.5" x2="267.8" y2="75.5" stroke="#ff00ff" stroke-width="1.3"/><path d="M256.90,72.70L259.70,75.50L256.90,78.30L254.10,75.50Z" fill="#ff00ff"/><text x="270.00" y="78.90" font-size="9.8" text-anchor="start" fill="#000" font-family="Liberation Serif, serif" font-weight="bold" >20 wt%</text><clipPath id="cb"><rect x="450.2" y="16.0" width="253.3" height="154.0"/></clipPath><g clip-path="url(#cb)"><polyline points="453.20,26.36 468.27,43.44 477.08,57.30 483.34,71.16 488.19,82.22 492.15,96.36 495.51,110.50 498.41,124.08 500.97,134.02 503.26,136.82 518.33,143.12 527.14,143.40 533.40,143.54 538.25,143.54 542.21,143.54 545.57,143.54 548.47,143.54 551.03,143.68 553.32,147.60 568.39,153.20 577.20,153.90 583.46,153.20 588.31,152.50 592.27,152.32 595.63,152.16 598.53,152.03 601.09,151.91 603.38,151.80 618.45,151.50 627.26,151.32 633.52,151.20 638.37,151.10 642.33,150.67 645.69,150.30 648.59,149.98 651.15,149.70 653.44,148.44 668.51,150.40 677.32,151.80 683.58,151.80 688.43,151.80 692.39,151.80 695.75,151.80 698.65,151.80 701.21,151.80 703.50,151.80" fill="none" stroke="#000000" stroke-width="1.2" stroke-linejoin="round"/><rect x="451.20" y="24.36" width="4.00" height="4.00" fill="#000000"/><rect x="466.27" y="41.44" width="4.00" height="4.00" fill="#000000"/><rect x="475.08" y="55.30" width="4.00" height="4.00" fill="#000000"/><rect x="481.34" y="69.16" width="4.00" height="4.00" fill="#000000"/><rect x="486.19" y="80.22" width="4.00" height="4.00" fill="#000000"/><rect x="490.15" y="94.36" width="4.00" height="4.00" fill="#000000"/><rect x="493.51" y="108.50" width="4.00" height="4.00" fill="#000000"/><rect x="496.41" y="122.08" width="4.00" height="4.00" fill="#000000"/><rect x="498.97" y="132.02" width="4.00" height="4.00" fill="#000000"/><rect x="501.26" y="134.82" width="4.00" height="4.00" fill="#000000"/><rect x="516.33" y="141.12" width="4.00" height="4.00" fill="#000000"/><rect x="525.14" y="141.40" width="4.00" height="4.00" fill="#000000"/><rect x="531.40" y="141.54" width="4.00" height="4.00" fill="#000000"/><rect x="536.25" y="141.54" width="4.00" height="4.00" fill="#000000"/><rect x="540.21" y="141.54" width="4.00" height="4.00" fill="#000000"/><rect x="543.57" y="141.54" width="4.00" height="4.00" fill="#000000"/><rect x="546.47" y="141.54" width="4.00" height="4.00" fill="#000000"/><rect x="549.03" y="141.68" width="4.00" height="4.00" fill="#000000"/><rect x="551.32" y="145.60" width="4.00" height="4.00" fill="#000000"/><rect x="566.39" y="151.20" width="4.00" height="4.00" fill="#000000"/><rect x="575.20" y="151.90" width="4.00" height="4.00" fill="#000000"/><rect x="581.46" y="151.20" width="4.00" height="4.00" fill="#000000"/><rect x="586.31" y="150.50" width="4.00" height="4.00" fill="#000000"/><rect x="590.27" y="150.32" width="4.00" height="4.00" fill="#000000"/><rect x="593.63" y="150.16" width="4.00" height="4.00" fill="#000000"/><rect x="596.53" y="150.03" width="4.00" height="4.00" fill="#000000"/><rect x="599.09" y="149.91" width="4.00" height="4.00" fill="#000000"/><rect x="601.38" y="149.80" width="4.00" height="4.00" fill="#000000"/><rect x="616.45" y="149.50" width="4.00" height="4.00" fill="#000000"/><rect x="625.26" y="149.32" width="4.00" height="4.00" fill="#000000"/><rect x="631.52" y="149.20" width="4.00" height="4.00" fill="#000000"/><rect x="636.37" y="149.10" width="4.00" height="4.00" fill="#000000"/><rect x="640.33" y="148.67" width="4.00" height="4.00" fill="#000000"/><rect x="643.69" y="148.30" width="4.00" height="4.00" fill="#000000"/><rect x="646.59" y="147.98" width="4.00" height="4.00" fill="#000000"/><rect x="649.15" y="147.70" width="4.00" height="4.00" fill="#000000"/><rect x="651.44" y="146.44" width="4.00" height="4.00" fill="#000000"/><rect x="666.51" y="148.40" width="4.00" height="4.00" fill="#000000"/><rect x="675.32" y="149.80" width="4.00" height="4.00" fill="#000000"/><rect x="681.58" y="149.80" width="4.00" height="4.00" fill="#000000"/><rect x="686.43" y="149.80" width="4.00" height="4.00" fill="#000000"/><rect x="690.39" y="149.80" width="4.00" height="4.00" fill="#000000"/><rect x="693.75" y="149.80" width="4.00" height="4.00" fill="#000000"/><rect x="696.65" y="149.80" width="4.00" height="4.00" fill="#000000"/><rect x="699.21" y="149.80" width="4.00" height="4.00" fill="#000000"/><rect x="701.50" y="149.80" width="4.00" height="4.00" fill="#000000"/><polyline points="453.20,67.24 468.27,84.74 477.08,96.36 483.34,110.08 488.19,123.66 492.15,138.50 495.51,139.20 498.41,139.62 500.97,140.04 503.26,140.60 518.33,145.78 527.14,146.90 533.40,149.00 538.25,150.40 542.21,153.20 545.57,154.60 548.47,155.30 551.03,156.00 553.32,156.00 568.39,156.00 577.20,155.30 583.46,156.00 588.31,154.60 592.27,154.60 595.63,154.60 598.53,154.60 601.09,154.60 603.38,154.60 618.45,154.88 627.26,154.88 633.52,154.88 638.37,154.88 642.33,154.88 645.69,154.88 648.59,154.88 651.15,154.88 653.44,153.90 668.51,153.20 677.32,153.90 683.58,154.04 688.43,154.04 692.39,154.04 695.75,154.04 698.65,154.04 701.21,154.04 703.50,154.04" fill="none" stroke="#ff0000" stroke-width="1.2" stroke-linejoin="round"/><circle cx="453.20" cy="67.24" r="2.10" fill="#ff0000"/><circle cx="468.27" cy="84.74" r="2.10" fill="#ff0000"/><circle cx="477.08" cy="96.36" r="2.10" fill="#ff0000"/><circle cx="483.34" cy="110.08" r="2.10" fill="#ff0000"/><circle cx="488.19" cy="123.66" r="2.10" fill="#ff0000"/><circle cx="492.15" cy="138.50" r="2.10" fill="#ff0000"/><circle cx="495.51" cy="139.20" r="2.10" fill="#ff0000"/><circle cx="498.41" cy="139.62" r="2.10" fill="#ff0000"/><circle cx="500.97" cy="140.04" r="2.10" fill="#ff0000"/><circle cx="503.26" cy="140.60" r="2.10" fill="#ff0000"/><circle cx="518.33" cy="145.78" r="2.10" fill="#ff0000"/><circle cx="527.14" cy="146.90" r="2.10" fill="#ff0000"/><circle cx="533.40" cy="149.00" r="2.10" fill="#ff0000"/><circle cx="538.25" cy="150.40" r="2.10" fill="#ff0000"/><circle cx="542.21" cy="153.20" r="2.10" fill="#ff0000"/><circle cx="545.57" cy="154.60" r="2.10" fill="#ff0000"/><circle cx="548.47" cy="155.30" r="2.10" fill="#ff0000"/><circle cx="551.03" cy="156.00" r="2.10" fill="#ff0000"/><circle cx="553.32" cy="156.00" r="2.10" fill="#ff0000"/><circle cx="568.39" cy="156.00" r="2.10" fill="#ff0000"/><circle cx="577.20" cy="155.30" r="2.10" fill="#ff0000"/><circle cx="583.46" cy="156.00" r="2.10" fill="#ff0000"/><circle cx="588.31" cy="154.60" r="2.10" fill="#ff0000"/><circle cx="592.27" cy="154.60" r="2.10" fill="#ff0000"/><circle cx="595.63" cy="154.60" r="2.10" fill="#ff0000"/><circle cx="598.53" cy="154.60" r="2.10" fill="#ff0000"/><circle cx="601.09" cy="154.60" r="2.10" fill="#ff0000"/><circle cx="603.38" cy="154.60" r="2.10" fill="#ff0000"/><circle cx="618.45" cy="154.88" r="2.10" fill="#ff0000"/><circle cx="627.26" cy="154.88" r="2.10" fill="#ff0000"/><circle cx="633.52" cy="154.88" r="2.10" fill="#ff0000"/><circle cx="638.37" cy="154.88" r="2.10" fill="#ff0000"/><circle cx="642.33" cy="154.88" r="2.10" fill="#ff0000"/><circle cx="645.69" cy="154.88" r="2.10" fill="#ff0000"/><circle cx="648.59" cy="154.88" r="2.10" fill="#ff0000"/><circle cx="651.15" cy="154.88" r="2.10" fill="#ff0000"/><circle cx="653.44" cy="153.90" r="2.10" fill="#ff0000"/><circle cx="668.51" cy="153.20" r="2.10" fill="#ff0000"/><circle cx="677.32" cy="153.90" r="2.10" fill="#ff0000"/><circle cx="683.58" cy="154.04" r="2.10" fill="#ff0000"/><circle cx="688.43" cy="154.04" r="2.10" fill="#ff0000"/><circle cx="692.39" cy="154.04" r="2.10" fill="#ff0000"/><circle cx="695.75" cy="154.04" r="2.10" fill="#ff0000"/><circle cx="698.65" cy="154.04" r="2.10" fill="#ff0000"/><circle cx="701.21" cy="154.04" r="2.10" fill="#ff0000"/><circle cx="703.50" cy="154.04" r="2.10" fill="#ff0000"/><polyline points="453.20,88.24 468.27,107.00 477.08,114.84 483.34,123.10 488.19,129.40 492.15,134.72 495.51,136.40 498.41,137.10 500.97,137.80 503.26,137.80 518.33,140.60 527.14,141.02 533.40,142.14 538.25,143.54 542.21,144.80 545.57,145.50 548.47,146.20 551.03,146.90 553.32,148.30 568.39,151.10 577.20,153.20 583.46,153.90 588.31,153.20 592.27,153.20 595.63,153.20 598.53,153.20 601.09,153.20 603.38,153.20 618.45,152.50 627.26,152.50 633.52,152.50 638.37,152.50 642.33,152.50 645.69,152.50 648.59,152.50 651.15,152.50 653.44,151.80 668.51,151.10 677.32,150.40 683.58,145.64 688.43,145.64 692.39,145.64 695.75,145.64 698.65,145.64 701.21,145.64 703.50,145.64" fill="none" stroke="#00e000" stroke-width="1.2" stroke-linejoin="round"/><path d="M453.20,85.54L455.70,90.28L450.70,90.28Z" fill="#00e000"/><path d="M468.27,104.30L470.77,109.04L465.77,109.04Z" fill="#00e000"/><path d="M477.08,112.14L479.58,116.88L474.58,116.88Z" fill="#00e000"/><path d="M483.34,120.40L485.84,125.14L480.84,125.14Z" fill="#00e000"/><path d="M488.19,126.70L490.69,131.44L485.69,131.44Z" fill="#00e000"/><path d="M492.15,132.02L494.65,136.76L489.65,136.76Z" fill="#00e000"/><path d="M495.51,133.70L498.01,138.44L493.01,138.44Z" fill="#00e000"/><path d="M498.41,134.40L500.91,139.14L495.91,139.14Z" fill="#00e000"/><path d="M500.97,135.10L503.47,139.84L498.47,139.84Z" fill="#00e000"/><path d="M503.26,135.10L505.76,139.84L500.76,139.84Z" fill="#00e000"/><path d="M518.33,137.90L520.83,142.64L515.83,142.64Z" fill="#00e000"/><path d="M527.14,138.32L529.64,143.06L524.64,143.06Z" fill="#00e000"/><path d="M533.40,139.44L535.90,144.18L530.90,144.18Z" fill="#00e000"/><path d="M538.25,140.84L540.75,145.58L535.75,145.58Z" fill="#00e000"/><path d="M542.21,142.10L544.71,146.84L539.71,146.84Z" fill="#00e000"/><path d="M545.57,142.80L548.07,147.54L543.07,147.54Z" fill="#00e000"/><path d="M548.47,143.50L550.97,148.24L545.97,148.24Z" fill="#00e000"/><path d="M551.03,144.20L553.53,148.94L548.53,148.94Z" fill="#00e000"/><path d="M553.32,145.60L555.82,150.34L550.82,150.34Z" fill="#00e000"/><path d="M568.39,148.40L570.89,153.14L565.89,153.14Z" fill="#00e000"/><path d="M577.20,150.50L579.70,155.24L574.70,155.24Z" fill="#00e000"/><path d="M583.46,151.20L585.96,155.94L580.96,155.94Z" fill="#00e000"/><path d="M588.31,150.50L590.81,155.24L585.81,155.24Z" fill="#00e000"/><path d="M592.27,150.50L594.77,155.24L589.77,155.24Z" fill="#00e000"/><path d="M595.63,150.50L598.13,155.24L593.13,155.24Z" fill="#00e000"/><path d="M598.53,150.50L601.03,155.24L596.03,155.24Z" fill="#00e000"/><path d="M601.09,150.50L603.59,155.24L598.59,155.24Z" fill="#00e000"/><path d="M603.38,150.50L605.88,155.24L600.88,155.24Z" fill="#00e000"/><path d="M618.45,149.80L620.95,154.54L615.95,154.54Z" fill="#00e000"/><path d="M627.26,149.80L629.76,154.54L624.76,154.54Z" fill="#00e000"/><path d="M633.52,149.80L636.02,154.54L631.02,154.54Z" fill="#00e000"/><path d="M638.37,149.80L640.87,154.54L635.87,154.54Z" fill="#00e000"/><path d="M642.33,149.80L644.83,154.54L639.83,154.54Z" fill="#00e000"/><path d="M645.69,149.80L648.19,154.54L643.19,154.54Z" fill="#00e000"/><path d="M648.59,149.80L651.09,154.54L646.09,154.54Z" fill="#00e000"/><path d="M651.15,149.80L653.65,154.54L648.65,154.54Z" fill="#00e000"/><path d="M653.44,149.10L655.94,153.84L650.94,153.84Z" fill="#00e000"/><path d="M668.51,148.40L671.01,153.14L666.01,153.14Z" fill="#00e000"/><path d="M677.32,147.70L679.82,152.44L674.82,152.44Z" fill="#00e000"/><path d="M683.58,142.94L686.08,147.68L681.08,147.68Z" fill="#00e000"/><path d="M688.43,142.94L690.93,147.68L685.93,147.68Z" fill="#00e000"/><path d="M692.39,142.94L694.89,147.68L689.89,147.68Z" fill="#00e000"/><path d="M695.75,142.94L698.25,147.68L693.25,147.68Z" fill="#00e000"/><path d="M698.65,142.94L701.15,147.68L696.15,147.68Z" fill="#00e000"/><path d="M701.21,142.94L703.71,147.68L698.71,147.68Z" fill="#00e000"/><path d="M703.50,142.94L706.00,147.68L701.00,147.68Z" fill="#00e000"/><polyline points="453.20,50.58 468.27,71.58 477.08,85.58 483.34,99.58 488.19,113.58 492.15,127.16 495.51,142.00 498.41,142.98 500.97,144.10 503.26,144.80 518.33,149.00 527.14,149.28 533.40,149.70 538.25,150.12 542.21,150.40 545.57,150.12 548.47,149.00 551.03,147.32 553.32,147.60 568.39,149.56 577.20,151.80 583.46,152.50 588.31,151.80 592.27,151.80 595.63,151.80 598.53,151.80 601.09,151.80 603.38,151.80 618.45,151.80 627.26,151.80 633.52,151.80 638.37,151.80 642.33,151.80 645.69,151.80 648.59,151.80 651.15,151.80 653.44,150.40 668.51,149.00 677.32,149.70 683.58,148.44 688.43,148.44 692.39,148.44 695.75,148.44 698.65,148.44 701.21,148.44 703.50,148.44" fill="none" stroke="#0000ff" stroke-width="1.2" stroke-linejoin="round"/><path d="M453.20,53.28L455.70,48.54L450.70,48.54Z" fill="#0000ff"/><path d="M468.27,74.28L470.77,69.54L465.77,69.54Z" fill="#0000ff"/><path d="M477.08,88.28L479.58,83.54L474.58,83.54Z" fill="#0000ff"/><path d="M483.34,102.28L485.84,97.54L480.84,97.54Z" fill="#0000ff"/><path d="M488.19,116.28L490.69,111.54L485.69,111.54Z" fill="#0000ff"/><path d="M492.15,129.86L494.65,125.12L489.65,125.12Z" fill="#0000ff"/><path d="M495.51,144.70L498.01,139.96L493.01,139.96Z" fill="#0000ff"/><path d="M498.41,145.68L500.91,140.94L495.91,140.94Z" fill="#0000ff"/><path d="M500.97,146.80L503.47,142.06L498.47,142.06Z" fill="#0000ff"/><path d="M503.26,147.50L505.76,142.76L500.76,142.76Z" fill="#0000ff"/><path d="M518.33,151.70L520.83,146.96L515.83,146.96Z" fill="#0000ff"/><path d="M527.14,151.98L529.64,147.24L524.64,147.24Z" fill="#0000ff"/><path d="M533.40,152.40L535.90,147.66L530.90,147.66Z" fill="#0000ff"/><path d="M538.25,152.82L540.75,148.08L535.75,148.08Z" fill="#0000ff"/><path d="M542.21,153.10L544.71,148.36L539.71,148.36Z" fill="#0000ff"/><path d="M545.57,152.82L548.07,148.08L543.07,148.08Z" fill="#0000ff"/><path d="M548.47,151.70L550.97,146.96L545.97,146.96Z" fill="#0000ff"/><path d="M551.03,150.02L553.53,145.28L548.53,145.28Z" fill="#0000ff"/><path d="M553.32,150.30L555.82,145.56L550.82,145.56Z" fill="#0000ff"/><path d="M568.39,152.26L570.89,147.52L565.89,147.52Z" fill="#0000ff"/><path d="M577.20,154.50L579.70,149.76L574.70,149.76Z" fill="#0000ff"/><path d="M583.46,155.20L585.96,150.46L580.96,150.46Z" fill="#0000ff"/><path d="M588.31,154.50L590.81,149.76L585.81,149.76Z" fill="#0000ff"/><path d="M592.27,154.50L594.77,149.76L589.77,149.76Z" fill="#0000ff"/><path d="M595.63,154.50L598.13,149.76L593.13,149.76Z" fill="#0000ff"/><path d="M598.53,154.50L601.03,149.76L596.03,149.76Z" fill="#0000ff"/><path d="M601.09,154.50L603.59,149.76L598.59,149.76Z" fill="#0000ff"/><path d="M603.38,154.50L605.88,149.76L600.88,149.76Z" fill="#0000ff"/><path d="M618.45,154.50L620.95,149.76L615.95,149.76Z" fill="#0000ff"/><path d="M627.26,154.50L629.76,149.76L624.76,149.76Z" fill="#0000ff"/><path d="M633.52,154.50L636.02,149.76L631.02,149.76Z" fill="#0000ff"/><path d="M638.37,154.50L640.87,149.76L635.87,149.76Z" fill="#0000ff"/><path d="M642.33,154.50L644.83,149.76L639.83,149.76Z" fill="#0000ff"/><path d="M645.69,154.50L648.19,149.76L643.19,149.76Z" fill="#0000ff"/><path d="M648.59,154.50L651.09,149.76L646.09,149.76Z" fill="#0000ff"/><path d="M651.15,154.50L653.65,149.76L648.65,149.76Z" fill="#0000ff"/><path d="M653.44,153.10L655.94,148.36L650.94,148.36Z" fill="#0000ff"/><path d="M668.51,151.70L671.01,146.96L666.01,146.96Z" fill="#0000ff"/><path d="M677.32,152.40L679.82,147.66L674.82,147.66Z" fill="#0000ff"/><path d="M683.58,151.14L686.08,146.40L681.08,146.40Z" fill="#0000ff"/><path d="M688.43,151.14L690.93,146.40L685.93,146.40Z" fill="#0000ff"/><path d="M692.39,151.14L694.89,146.40L689.89,146.40Z" fill="#0000ff"/><path d="M695.75,151.14L698.25,146.40L693.25,146.40Z" fill="#0000ff"/><path d="M698.65,151.14L701.15,146.40L696.15,146.40Z" fill="#0000ff"/><path d="M701.21,151.14L703.71,146.40L698.71,146.40Z" fill="#0000ff"/><path d="M703.50,151.14L706.00,146.40L701.00,146.40Z" fill="#0000ff"/><polyline points="453.20,113.72 468.27,121.00 477.08,123.66 483.34,127.86 488.19,129.40 492.15,132.20 495.51,133.60 498.41,135.70 500.97,137.80 503.26,138.50 518.33,139.06 527.14,144.38 533.40,149.84 538.25,151.10 542.21,152.08 545.57,153.20 548.47,154.46 551.03,155.30 553.32,156.00 568.39,155.30 577.20,153.20 583.46,153.20 588.31,151.10 592.27,151.10 595.63,151.10 598.53,151.10 601.09,151.10 603.38,151.10 618.45,151.80 627.26,151.80 633.52,151.80 638.37,151.80 642.33,151.80 645.69,151.80 648.59,151.80 651.15,151.80 653.44,151.52 668.51,153.34 677.32,151.80 683.58,150.26 688.43,150.26 692.39,150.26 695.75,150.26 698.65,150.26 701.21,150.26 703.50,150.26" fill="none" stroke="#ff00ff" stroke-width="1.2" stroke-linejoin="round"/><path d="M453.20,110.92L456.00,113.72L453.20,116.52L450.40,113.72Z" fill="#ff00ff"/><path d="M468.27,118.20L471.07,121.00L468.27,123.80L465.47,121.00Z" fill="#ff00ff"/><path d="M477.08,120.86L479.88,123.66L477.08,126.46L474.28,123.66Z" fill="#ff00ff"/><path d="M483.34,125.06L486.14,127.86L483.34,130.66L480.54,127.86Z" fill="#ff00ff"/><path d="M488.19,126.60L490.99,129.40L488.19,132.20L485.39,129.40Z" fill="#ff00ff"/><path d="M492.15,129.40L494.95,132.20L492.15,135.00L489.35,132.20Z" fill="#ff00ff"/><path d="M495.51,130.80L498.31,133.60L495.51,136.40L492.71,133.60Z" fill="#ff00ff"/><path d="M498.41,132.90L501.21,135.70L498.41,138.50L495.61,135.70Z" fill="#ff00ff"/><path d="M500.97,135.00L503.77,137.80L500.97,140.60L498.17,137.80Z" fill="#ff00ff"/><path d="M503.26,135.70L506.06,138.50L503.26,141.30L500.46,138.50Z" fill="#ff00ff"/><path d="M518.33,136.26L521.13,139.06L518.33,141.86L515.53,139.06Z" fill="#ff00ff"/><path d="M527.14,141.58L529.94,144.38L527.14,147.18L524.34,144.38Z" fill="#ff00ff"/><path d="M533.40,147.04L536.20,149.84L533.40,152.64L530.60,149.84Z" fill="#ff00ff"/><path d="M538.25,148.30L541.05,151.10L538.25,153.90L535.45,151.10Z" fill="#ff00ff"/><path d="M542.21,149.28L545.01,152.08L542.21,154.88L539.41,152.08Z" fill="#ff00ff"/><path d="M545.57,150.40L548.37,153.20L545.57,156.00L542.77,153.20Z" fill="#ff00ff"/><path d="M548.47,151.66L551.27,154.46L548.47,157.26L545.67,154.46Z" fill="#ff00ff"/><path d="M551.03,152.50L553.83,155.30L551.03,158.10L548.23,155.30Z" fill="#ff00ff"/><path d="M553.32,153.20L556.12,156.00L553.32,158.80L550.52,156.00Z" fill="#ff00ff"/><path d="M568.39,152.50L571.19,155.30L568.39,158.10L565.59,155.30Z" fill="#ff00ff"/><path d="M577.20,150.40L580.00,153.20L577.20,156.00L574.40,153.20Z" fill="#ff00ff"/><path d="M583.46,150.40L586.26,153.20L583.46,156.00L580.66,153.20Z" fill="#ff00ff"/><path d="M588.31,148.30L591.11,151.10L588.31,153.90L585.51,151.10Z" fill="#ff00ff"/><path d="M592.27,148.30L595.07,151.10L592.27,153.90L589.47,151.10Z" fill="#ff00ff"/><path d="M595.63,148.30L598.43,151.10L595.63,153.90L592.83,151.10Z" fill="#ff00ff"/><path d="M598.53,148.30L601.33,151.10L598.53,153.90L595.73,151.10Z" fill="#ff00ff"/><path d="M601.09,148.30L603.89,151.10L601.09,153.90L598.29,151.10Z" fill="#ff00ff"/><path d="M603.38,148.30L606.18,151.10L603.38,153.90L600.58,151.10Z" fill="#ff00ff"/><path d="M618.45,149.00L621.25,151.80L618.45,154.60L615.65,151.80Z" fill="#ff00ff"/><path d="M627.26,149.00L630.06,151.80L627.26,154.60L624.46,151.80Z" fill="#ff00ff"/><path d="M633.52,149.00L636.32,151.80L633.52,154.60L630.72,151.80Z" fill="#ff00ff"/><path d="M638.37,149.00L641.17,151.80L638.37,154.60L635.57,151.80Z" fill="#ff00ff"/><path d="M642.33,149.00L645.13,151.80L642.33,154.60L639.53,151.80Z" fill="#ff00ff"/><path d="M645.69,149.00L648.49,151.80L645.69,154.60L642.89,151.80Z" fill="#ff00ff"/><path d="M648.59,149.00L651.39,151.80L648.59,154.60L645.79,151.80Z" fill="#ff00ff"/><path d="M651.15,149.00L653.95,151.80L651.15,154.60L648.35,151.80Z" fill="#ff00ff"/><path d="M653.44,148.72L656.24,151.52L653.44,154.32L650.64,151.52Z" fill="#ff00ff"/><path d="M668.51,150.54L671.31,153.34L668.51,156.14L665.71,153.34Z" fill="#ff00ff"/><path d="M677.32,149.00L680.12,151.80L677.32,154.60L674.52,151.80Z" fill="#ff00ff"/><path d="M683.58,147.46L686.38,150.26L683.58,153.06L680.78,150.26Z" fill="#ff00ff"/><path d="M688.43,147.46L691.23,150.26L688.43,153.06L685.63,150.26Z" fill="#ff00ff"/><path d="M692.39,147.46L695.19,150.26L692.39,153.06L689.59,150.26Z" fill="#ff00ff"/><path d="M695.75,147.46L698.55,150.26L695.75,153.06L692.95,150.26Z" fill="#ff00ff"/><path d="M698.65,147.46L701.45,150.26L698.65,153.06L695.85,150.26Z" fill="#ff00ff"/><path d="M701.21,147.46L704.01,150.26L701.21,153.06L698.41,150.26Z" fill="#ff00ff"/><path d="M703.50,147.46L706.30,150.26L703.50,153.06L700.70,150.26Z" fill="#ff00ff"/></g><rect x="453.2" y="16.0" width="250.3" height="154.0" fill="none" stroke="#111" stroke-width="1.5"/><line x1="451.0" y1="170.00" x2="453.2" y2="170.00" stroke="#000" stroke-width="1.1"/><line x1="449.8" y1="156.00" x2="453.2" y2="156.00" stroke="#000" stroke-width="1.2"/><text x="0.00" y="0.00" font-size="8.2" text-anchor="end" fill="#000" font-family="Liberation Serif, serif" font-weight="bold" transform="translate(448.20,158.90) scale(1.12,1)">0.0</text><line x1="451.0" y1="142.00" x2="453.2" y2="142.00" stroke="#000" stroke-width="1.1"/><line x1="449.8" y1="128.00" x2="453.2" y2="128.00" stroke="#000" stroke-width="1.2"/><text x="0.00" y="0.00" font-size="8.2" text-anchor="end" fill="#000" font-family="Liberation Serif, serif" font-weight="bold" transform="translate(448.20,130.90) scale(1.12,1)">0.2</text><line x1="451.0" y1="114.00" x2="453.2" y2="114.00" stroke="#000" stroke-width="1.1"/><line x1="449.8" y1="100.00" x2="453.2" y2="100.00" stroke="#000" stroke-width="1.2"/><text x="0.00" y="0.00" font-size="8.2" text-anchor="end" fill="#000" font-family="Liberation Serif, serif" font-weight="bold" transform="translate(448.20,102.90) scale(1.12,1)">0.4</text><line x1="451.0" y1="86.00" x2="453.2" y2="86.00" stroke="#000" stroke-width="1.1"/><line x1="449.8" y1="72.00" x2="453.2" y2="72.00" stroke="#000" stroke-width="1.2"/><text x="0.00" y="0.00" font-size="8.2" text-anchor="end" fill="#000" font-family="Liberation Serif, serif" font-weight="bold" transform="translate(448.20,74.90) scale(1.12,1)">0.6</text><line x1="451.0" y1="58.00" x2="453.2" y2="58.00" stroke="#000" stroke-width="1.1"/><line x1="449.8" y1="44.00" x2="453.2" y2="44.00" stroke="#000" stroke-width="1.2"/><text x="0.00" y="0.00" font-size="8.2" text-anchor="end" fill="#000" font-family="Liberation Serif, serif" font-weight="bold" transform="translate(448.20,46.90) scale(1.12,1)">0.8</text><line x1="451.0" y1="30.00" x2="453.2" y2="30.00" stroke="#000" stroke-width="1.1"/><line x1="449.8" y1="16.00" x2="453.2" y2="16.00" stroke="#000" stroke-width="1.2"/><text x="0.00" y="0.00" font-size="8.2" text-anchor="end" fill="#000" font-family="Liberation Serif, serif" font-weight="bold" transform="translate(448.20,18.90) scale(1.12,1)">1.0</text><line x1="453.20" y1="170.00" x2="453.20" y2="174.00" stroke="#000" stroke-width="1.2"/><line x1="468.27" y1="170.00" x2="468.27" y2="172.60" stroke="#000" stroke-width="1"/><line x1="477.08" y1="170.00" x2="477.08" y2="172.60" stroke="#000" stroke-width="1"/><line x1="483.34" y1="170.00" x2="483.34" y2="172.60" stroke="#000" stroke-width="1"/><line x1="488.19" y1="170.00" x2="488.19" y2="172.60" stroke="#000" stroke-width="1"/><line x1="492.15" y1="170.00" x2="492.15" y2="172.60" stroke="#000" stroke-width="1"/><line x1="495.51" y1="170.00" x2="495.51" y2="172.60" stroke="#000" stroke-width="1"/><line x1="498.41" y1="170.00" x2="498.41" y2="172.60" stroke="#000" stroke-width="1"/><line x1="500.97" y1="170.00" x2="500.97" y2="172.60" stroke="#000" stroke-width="1"/><line x1="503.26" y1="170.00" x2="503.26" y2="174.00" stroke="#000" stroke-width="1.2"/><line x1="518.33" y1="170.00" x2="518.33" y2="172.60" stroke="#000" stroke-width="1"/><line x1="527.14" y1="170.00" x2="527.14" y2="172.60" stroke="#000" stroke-width="1"/><line x1="533.40" y1="170.00" x2="533.40" y2="172.60" stroke="#000" stroke-width="1"/><line x1="538.25" y1="170.00" x2="538.25" y2="172.60" stroke="#000" stroke-width="1"/><line x1="542.21" y1="170.00" x2="542.21" y2="172.60" stroke="#000" stroke-width="1"/><line x1="545.57" y1="170.00" x2="545.57" y2="172.60" stroke="#000" stroke-width="1"/><line x1="548.47" y1="170.00" x2="548.47" y2="172.60" stroke="#000" stroke-width="1"/><line x1="551.03" y1="170.00" x2="551.03" y2="172.60" stroke="#000" stroke-width="1"/><line x1="553.32" y1="170.00" x2="553.32" y2="174.00" stroke="#000" stroke-width="1.2"/><line x1="568.39" y1="170.00" x2="568.39" y2="172.60" stroke="#000" stroke-width="1"/><line x1="577.20" y1="170.00" x2="577.20" y2="172.60" stroke="#000" stroke-width="1"/><line x1="583.46" y1="170.00" x2="583.46" y2="172.60" stroke="#000" stroke-width="1"/><line x1="588.31" y1="170.00" x2="588.31" y2="172.60" stroke="#000" stroke-width="1"/><line x1="592.27" y1="170.00" x2="592.27" y2="172.60" stroke="#000" stroke-width="1"/><line x1="595.63" y1="170.00" x2="595.63" y2="172.60" stroke="#000" stroke-width="1"/><line x1="598.53" y1="170.00" x2="598.53" y2="172.60" stroke="#000" stroke-width="1"/><line x1="601.09" y1="170.00" x2="601.09" y2="172.60" stroke="#000" stroke-width="1"/><line x1="603.38" y1="170.00" x2="603.38" y2="174.00" stroke="#000" stroke-width="1.2"/><line x1="618.45" y1="170.00" x2="618.45" y2="172.60" stroke="#000" stroke-width="1"/><line x1="627.26" y1="170.00" x2="627.26" y2="172.60" stroke="#000" stroke-width="1"/><line x1="633.52" y1="170.00" x2="633.52" y2="172.60" stroke="#000" stroke-width="1"/><line x1="638.37" y1="170.00" x2="638.37" y2="172.60" stroke="#000" stroke-width="1"/><line x1="642.33" y1="170.00" x2="642.33" y2="172.60" stroke="#000" stroke-width="1"/><line x1="645.69" y1="170.00" x2="645.69" y2="172.60" stroke="#000" stroke-width="1"/><line x1="648.59" y1="170.00" x2="648.59" y2="172.60" stroke="#000" stroke-width="1"/><line x1="651.15" y1="170.00" x2="651.15" y2="172.60" stroke="#000" stroke-width="1"/><line x1="653.44" y1="170.00" x2="653.44" y2="174.00" stroke="#000" stroke-width="1.2"/><line x1="668.51" y1="170.00" x2="668.51" y2="172.60" stroke="#000" stroke-width="1"/><line x1="677.32" y1="170.00" x2="677.32" y2="172.60" stroke="#000" stroke-width="1"/><line x1="683.58" y1="170.00" x2="683.58" y2="172.60" stroke="#000" stroke-width="1"/><line x1="688.43" y1="170.00" x2="688.43" y2="172.60" stroke="#000" stroke-width="1"/><line x1="692.39" y1="170.00" x2="692.39" y2="172.60" stroke="#000" stroke-width="1"/><line x1="695.75" y1="170.00" x2="695.75" y2="172.60" stroke="#000" stroke-width="1"/><line x1="698.65" y1="170.00" x2="698.65" y2="172.60" stroke="#000" stroke-width="1"/><line x1="701.21" y1="170.00" x2="701.21" y2="172.60" stroke="#000" stroke-width="1"/><line x1="703.50" y1="170.00" x2="703.50" y2="174.00" stroke="#000" stroke-width="1.2"/><text x="447.50" y="185.50" font-size="8.2" fill="#000" font-family="Liberation Serif, serif" font-weight="bold">10<tspan font-size="5.2" dy="-3.44" dx="0.6">0</tspan></text><text x="497.56" y="185.50" font-size="8.2" fill="#000" font-family="Liberation Serif, serif" font-weight="bold">10<tspan font-size="5.2" dy="-3.44" dx="0.6">1</tspan></text><text x="547.62" y="185.50" font-size="8.2" fill="#000" font-family="Liberation Serif, serif" font-weight="bold">10<tspan font-size="5.2" dy="-3.44" dx="0.6">2</tspan></text><text x="597.68" y="185.50" font-size="8.2" fill="#000" font-family="Liberation Serif, serif" font-weight="bold">10<tspan font-size="5.2" dy="-3.44" dx="0.6">3</tspan></text><text x="647.74" y="185.50" font-size="8.2" fill="#000" font-family="Liberation Serif, serif" font-weight="bold">10<tspan font-size="5.2" dy="-3.44" dx="0.6">4</tspan></text><text x="697.80" y="185.50" font-size="8.2" fill="#000" font-family="Liberation Serif, serif" font-weight="bold">10<tspan font-size="5.2" dy="-3.44" dx="0.6">5</tspan></text><text x="579.00" y="201.50" font-size="9.2" text-anchor="middle" fill="#000" font-family="Liberation Serif, serif" font-weight="bold" >Frequency (Hz)</text><text x="0.00" y="0.00" font-size="9.4" text-anchor="middle" fill="#000" font-family="Liberation Serif, serif" font-weight="bold" transform="translate(429.8,100.6) rotate(-90)">loss tangent</text><text x="405.80" y="25.80" font-size="17.6" text-anchor="start" fill="#000" font-family="Liberation Serif, serif" font-weight="bold" >(b)</text><line x1="647" y1="25.4" x2="654.4" y2="25.4" stroke="#000000" stroke-width="1.3"/><line x1="659.8" y1="25.4" x2="667.2" y2="25.4" stroke="#000000" stroke-width="1.3"/><rect x="655.20" y="23.50" width="3.80" height="3.80" fill="#000000"/><text x="671.60" y="28.60" font-size="9.2" text-anchor="start" fill="#000" font-family="Liberation Serif, serif" font-weight="bold" >0 wt%</text><line x1="647" y1="37.0" x2="654.4" y2="37.0" stroke="#ff0000" stroke-width="1.3"/><line x1="659.8" y1="37.0" x2="667.2" y2="37.0" stroke="#ff0000" stroke-width="1.3"/><circle cx="657.10" cy="37.00" r="1.99" fill="#ff0000"/><text x="671.60" y="40.20" font-size="9.2" text-anchor="start" fill="#000" font-family="Liberation Serif, serif" font-weight="bold" >5 wt%</text><line x1="647" y1="48.6" x2="654.4" y2="48.6" stroke="#00e000" stroke-width="1.3"/><line x1="659.8" y1="48.6" x2="667.2" y2="48.6" stroke="#00e000" stroke-width="1.3"/><path d="M657.10,46.02L659.48,50.54L654.73,50.54Z" fill="#00e000"/><text x="669.30" y="51.80" font-size="9.2" text-anchor="start" fill="#000" font-family="Liberation Serif, serif" font-weight="bold" >10 wt%</text><line x1="647" y1="60.2" x2="654.4" y2="60.2" stroke="#0000ff" stroke-width="1.3"/><line x1="659.8" y1="60.2" x2="667.2" y2="60.2" stroke="#0000ff" stroke-width="1.3"/><path d="M657.10,62.78L659.48,58.26L654.73,58.26Z" fill="#0000ff"/><text x="669.30" y="63.40" font-size="9.2" text-anchor="start" fill="#000" font-family="Liberation Serif, serif" font-weight="bold" >15 wt%</text><line x1="647" y1="71.8" x2="654.4" y2="71.8" stroke="#ff00ff" stroke-width="1.3"/><line x1="659.8" y1="71.8" x2="667.2" y2="71.8" stroke="#ff00ff" stroke-width="1.3"/><path d="M657.10,69.14L659.76,71.80L657.10,74.46L654.44,71.80Z" fill="#ff00ff"/><text x="669.30" y="75.00" font-size="9.2" text-anchor="start" fill="#000" font-family="Liberation Serif, serif" font-weight="bold" >20 wt%</text><clipPath id="cc"><rect x="53.3" y="240.0" width="254.1" height="154.0"/></clipPath><g clip-path="url(#cc)"><polyline points="56.30,378.80 71.14,378.86 79.82,378.90 85.98,378.92 90.76,378.94 94.66,378.96 97.96,378.97 100.82,378.98 103.34,378.99 105.60,379.00 120.44,379.00 129.12,379.00 135.28,379.00 140.06,379.00 143.96,380.00 147.26,380.00 150.12,380.00 152.64,380.00 154.90,380.80 169.74,379.00 178.42,376.00 184.58,372.50 189.36,365.90 193.26,365.90 196.56,369.00 199.42,362.20 201.94,358.40 204.20,353.00 219.04,339.30 227.72,324.70 233.88,321.30 238.66,314.80 242.56,311.00 245.86,308.00 248.72,305.00 251.24,302.50 253.50,300.50 268.34,275.10 277.02,268.00 283.18,256.70 287.96,258.00 291.86,255.00 295.16,252.00 298.02,250.00 300.54,248.00 302.80,245.80" fill="none" stroke="#000000" stroke-width="1.2" stroke-linejoin="round"/><rect x="54.30" y="376.80" width="4.00" height="4.00" fill="#000000"/><rect x="69.14" y="376.86" width="4.00" height="4.00" fill="#000000"/><rect x="77.82" y="376.90" width="4.00" height="4.00" fill="#000000"/><rect x="83.98" y="376.92" width="4.00" height="4.00" fill="#000000"/><rect x="88.76" y="376.94" width="4.00" height="4.00" fill="#000000"/><rect x="92.66" y="376.96" width="4.00" height="4.00" fill="#000000"/><rect x="95.96" y="376.97" width="4.00" height="4.00" fill="#000000"/><rect x="98.82" y="376.98" width="4.00" height="4.00" fill="#000000"/><rect x="101.34" y="376.99" width="4.00" height="4.00" fill="#000000"/><rect x="103.60" y="377.00" width="4.00" height="4.00" fill="#000000"/><rect x="118.44" y="377.00" width="4.00" height="4.00" fill="#000000"/><rect x="127.12" y="377.00" width="4.00" height="4.00" fill="#000000"/><rect x="133.28" y="377.00" width="4.00" height="4.00" fill="#000000"/><rect x="138.06" y="377.00" width="4.00" height="4.00" fill="#000000"/><rect x="141.96" y="378.00" width="4.00" height="4.00" fill="#000000"/><rect x="145.26" y="378.00" width="4.00" height="4.00" fill="#000000"/><rect x="148.12" y="378.00" width="4.00" height="4.00" fill="#000000"/><rect x="150.64" y="378.00" width="4.00" height="4.00" fill="#000000"/><rect x="152.90" y="378.80" width="4.00" height="4.00" fill="#000000"/><rect x="167.74" y="377.00" width="4.00" height="4.00" fill="#000000"/><rect x="176.42" y="374.00" width="4.00" height="4.00" fill="#000000"/><rect x="182.58" y="370.50" width="4.00" height="4.00" fill="#000000"/><rect x="187.36" y="363.90" width="4.00" height="4.00" fill="#000000"/><rect x="191.26" y="363.90" width="4.00" height="4.00" fill="#000000"/><rect x="194.56" y="367.00" width="4.00" height="4.00" fill="#000000"/><rect x="197.42" y="360.20" width="4.00" height="4.00" fill="#000000"/><rect x="199.94" y="356.40" width="4.00" height="4.00" fill="#000000"/><rect x="202.20" y="351.00" width="4.00" height="4.00" fill="#000000"/><rect x="217.04" y="337.30" width="4.00" height="4.00" fill="#000000"/><rect x="225.72" y="322.70" width="4.00" height="4.00" fill="#000000"/><rect x="231.88" y="319.30" width="4.00" height="4.00" fill="#000000"/><rect x="236.66" y="312.80" width="4.00" height="4.00" fill="#000000"/><rect x="240.56" y="309.00" width="4.00" height="4.00" fill="#000000"/><rect x="243.86" y="306.00" width="4.00" height="4.00" fill="#000000"/><rect x="246.72" y="303.00" width="4.00" height="4.00" fill="#000000"/><rect x="249.24" y="300.50" width="4.00" height="4.00" fill="#000000"/><rect x="251.50" y="298.50" width="4.00" height="4.00" fill="#000000"/><rect x="266.34" y="273.10" width="4.00" height="4.00" fill="#000000"/><rect x="275.02" y="266.00" width="4.00" height="4.00" fill="#000000"/><rect x="281.18" y="254.70" width="4.00" height="4.00" fill="#000000"/><rect x="285.96" y="256.00" width="4.00" height="4.00" fill="#000000"/><rect x="289.86" y="253.00" width="4.00" height="4.00" fill="#000000"/><rect x="293.16" y="250.00" width="4.00" height="4.00" fill="#000000"/><rect x="296.02" y="248.00" width="4.00" height="4.00" fill="#000000"/><rect x="298.54" y="246.00" width="4.00" height="4.00" fill="#000000"/><rect x="300.80" y="243.80" width="4.00" height="4.00" fill="#000000"/><polyline points="56.30,386.00 71.14,386.00 79.82,386.00 85.98,386.00 90.76,386.00 94.66,386.00 97.96,386.00 100.82,386.00 103.34,386.00 105.60,386.00 120.44,386.00 129.12,386.00 135.28,370.20 140.06,370.20 143.96,370.50 147.26,375.00 150.12,377.00 152.64,378.00 154.90,378.60 169.74,372.00 178.42,365.90 184.58,375.90 189.36,362.90 193.26,358.10 196.56,349.20 199.42,346.00 201.94,343.70 204.20,338.00 219.04,330.00 227.72,322.00 233.88,317.00 238.66,312.00 242.56,308.50 245.86,306.00 248.72,303.50 251.24,301.00 253.50,299.00 268.34,274.00 277.02,270.80 283.18,266.00 287.96,255.60 291.86,255.00 295.16,252.00 298.02,250.20 300.54,246.00 302.80,243.20" fill="none" stroke="#ff0000" stroke-width="1.2" stroke-linejoin="round"/><circle cx="56.30" cy="386.00" r="2.10" fill="#ff0000"/><circle cx="71.14" cy="386.00" r="2.10" fill="#ff0000"/><circle cx="79.82" cy="386.00" r="2.10" fill="#ff0000"/><circle cx="85.98" cy="386.00" r="2.10" fill="#ff0000"/><circle cx="90.76" cy="386.00" r="2.10" fill="#ff0000"/><circle cx="94.66" cy="386.00" r="2.10" fill="#ff0000"/><circle cx="97.96" cy="386.00" r="2.10" fill="#ff0000"/><circle cx="100.82" cy="386.00" r="2.10" fill="#ff0000"/><circle cx="103.34" cy="386.00" r="2.10" fill="#ff0000"/><circle cx="105.60" cy="386.00" r="2.10" fill="#ff0000"/><circle cx="120.44" cy="386.00" r="2.10" fill="#ff0000"/><circle cx="129.12" cy="386.00" r="2.10" fill="#ff0000"/><circle cx="135.28" cy="370.20" r="2.10" fill="#ff0000"/><circle cx="140.06" cy="370.20" r="2.10" fill="#ff0000"/><circle cx="143.96" cy="370.50" r="2.10" fill="#ff0000"/><circle cx="147.26" cy="375.00" r="2.10" fill="#ff0000"/><circle cx="150.12" cy="377.00" r="2.10" fill="#ff0000"/><circle cx="152.64" cy="378.00" r="2.10" fill="#ff0000"/><circle cx="154.90" cy="378.60" r="2.10" fill="#ff0000"/><circle cx="169.74" cy="372.00" r="2.10" fill="#ff0000"/><circle cx="178.42" cy="365.90" r="2.10" fill="#ff0000"/><circle cx="184.58" cy="375.90" r="2.10" fill="#ff0000"/><circle cx="189.36" cy="362.90" r="2.10" fill="#ff0000"/><circle cx="193.26" cy="358.10" r="2.10" fill="#ff0000"/><circle cx="196.56" cy="349.20" r="2.10" fill="#ff0000"/><circle cx="199.42" cy="346.00" r="2.10" fill="#ff0000"/><circle cx="201.94" cy="343.70" r="2.10" fill="#ff0000"/><circle cx="204.20" cy="338.00" r="2.10" fill="#ff0000"/><circle cx="219.04" cy="330.00" r="2.10" fill="#ff0000"/><circle cx="227.72" cy="322.00" r="2.10" fill="#ff0000"/><circle cx="233.88" cy="317.00" r="2.10" fill="#ff0000"/><circle cx="238.66" cy="312.00" r="2.10" fill="#ff0000"/><circle cx="242.56" cy="308.50" r="2.10" fill="#ff0000"/><circle cx="245.86" cy="306.00" r="2.10" fill="#ff0000"/><circle cx="248.72" cy="303.50" r="2.10" fill="#ff0000"/><circle cx="251.24" cy="301.00" r="2.10" fill="#ff0000"/><circle cx="253.50" cy="299.00" r="2.10" fill="#ff0000"/><circle cx="268.34" cy="274.00" r="2.10" fill="#ff0000"/><circle cx="277.02" cy="270.80" r="2.10" fill="#ff0000"/><circle cx="283.18" cy="266.00" r="2.10" fill="#ff0000"/><circle cx="287.96" cy="255.60" r="2.10" fill="#ff0000"/><circle cx="291.86" cy="255.00" r="2.10" fill="#ff0000"/><circle cx="295.16" cy="252.00" r="2.10" fill="#ff0000"/><circle cx="298.02" cy="250.20" r="2.10" fill="#ff0000"/><circle cx="300.54" cy="246.00" r="2.10" fill="#ff0000"/><circle cx="302.80" cy="243.20" r="2.10" fill="#ff0000"/><polyline points="56.30,379.70 71.14,379.64 79.82,379.60 85.98,379.58 90.76,379.56 94.66,379.54 97.96,379.53 100.82,379.52 103.34,379.51 105.60,379.50 120.44,376.40 129.12,374.50 135.28,379.00 140.06,379.00 143.96,380.20 147.26,380.20 150.12,380.20 152.64,380.20 154.90,369.70 169.74,370.40 178.42,372.50 184.58,362.20 189.36,370.40 193.26,370.40 196.56,370.40 199.42,349.20 201.94,347.80 204.20,346.00 219.04,335.90 227.72,338.40 233.88,326.40 238.66,320.00 242.56,316.20 245.86,313.00 248.72,309.30 251.24,307.00 253.50,304.40 268.34,287.00 277.02,284.50 283.18,268.00 287.96,264.00 291.86,261.00 295.16,258.00 298.02,256.00 300.54,253.50 302.80,251.30" fill="none" stroke="#00e000" stroke-width="1.2" stroke-linejoin="round"/><path d="M56.30,377.00L58.80,381.74L53.80,381.74Z" fill="#00e000"/><path d="M71.14,376.94L73.64,381.68L68.64,381.68Z" fill="#00e000"/><path d="M79.82,376.90L82.32,381.64L77.32,381.64Z" fill="#00e000"/><path d="M85.98,376.88L88.48,381.62L83.48,381.62Z" fill="#00e000"/><path d="M90.76,376.86L93.26,381.60L88.26,381.60Z" fill="#00e000"/><path d="M94.66,376.84L97.16,381.58L92.16,381.58Z" fill="#00e000"/><path d="M97.96,376.83L100.46,381.57L95.46,381.57Z" fill="#00e000"/><path d="M100.82,376.82L103.32,381.56L98.32,381.56Z" fill="#00e000"/><path d="M103.34,376.81L105.84,381.55L100.84,381.55Z" fill="#00e000"/><path d="M105.60,376.80L108.10,381.54L103.10,381.54Z" fill="#00e000"/><path d="M120.44,373.70L122.94,378.44L117.94,378.44Z" fill="#00e000"/><path d="M129.12,371.80L131.62,376.54L126.62,376.54Z" fill="#00e000"/><path d="M135.28,376.30L137.78,381.04L132.78,381.04Z" fill="#00e000"/><path d="M140.06,376.30L142.56,381.04L137.56,381.04Z" fill="#00e000"/><path d="M143.96,377.50L146.46,382.24L141.46,382.24Z" fill="#00e000"/><path d="M147.26,377.50L149.76,382.24L144.76,382.24Z" fill="#00e000"/><path d="M150.12,377.50L152.62,382.24L147.62,382.24Z" fill="#00e000"/><path d="M152.64,377.50L155.14,382.24L150.14,382.24Z" fill="#00e000"/><path d="M154.90,367.00L157.40,371.74L152.40,371.74Z" fill="#00e000"/><path d="M169.74,367.70L172.24,372.44L167.24,372.44Z" fill="#00e000"/><path d="M178.42,369.80L180.92,374.54L175.92,374.54Z" fill="#00e000"/><path d="M184.58,359.50L187.08,364.24L182.08,364.24Z" fill="#00e000"/><path d="M189.36,367.70L191.86,372.44L186.86,372.44Z" fill="#00e000"/><path d="M193.26,367.70L195.76,372.44L190.76,372.44Z" fill="#00e000"/><path d="M196.56,367.70L199.06,372.44L194.06,372.44Z" fill="#00e000"/><path d="M199.42,346.50L201.92,351.24L196.92,351.24Z" fill="#00e000"/><path d="M201.94,345.10L204.44,349.84L199.44,349.84Z" fill="#00e000"/><path d="M204.20,343.30L206.70,348.04L201.70,348.04Z" fill="#00e000"/><path d="M219.04,333.20L221.54,337.94L216.54,337.94Z" fill="#00e000"/><path d="M227.72,335.70L230.22,340.44L225.22,340.44Z" fill="#00e000"/><path d="M233.88,323.70L236.38,328.44L231.38,328.44Z" fill="#00e000"/><path d="M238.66,317.30L241.16,322.04L236.16,322.04Z" fill="#00e000"/><path d="M242.56,313.50L245.06,318.24L240.06,318.24Z" fill="#00e000"/><path d="M245.86,310.30L248.36,315.04L243.36,315.04Z" fill="#00e000"/><path d="M248.72,306.60L251.22,311.34L246.22,311.34Z" fill="#00e000"/><path d="M251.24,304.30L253.74,309.04L248.74,309.04Z" fill="#00e000"/><path d="M253.50,301.70L256.00,306.44L251.00,306.44Z" fill="#00e000"/><path d="M268.34,284.30L270.84,289.04L265.84,289.04Z" fill="#00e000"/><path d="M277.02,281.80L279.52,286.54L274.52,286.54Z" fill="#00e000"/><path d="M283.18,265.30L285.68,270.04L280.68,270.04Z" fill="#00e000"/><path d="M287.96,261.30L290.46,266.04L285.46,266.04Z" fill="#00e000"/><path d="M291.86,258.30L294.36,263.04L289.36,263.04Z" fill="#00e000"/><path d="M295.16,255.30L297.66,260.04L292.66,260.04Z" fill="#00e000"/><path d="M298.02,253.30L300.52,258.04L295.52,258.04Z" fill="#00e000"/><path d="M300.54,250.80L303.04,255.54L298.04,255.54Z" fill="#00e000"/><path d="M302.80,248.60L305.30,253.34L300.30,253.34Z" fill="#00e000"/><polyline points="56.30,372.40 71.14,372.40 79.82,372.40 85.98,372.40 90.76,372.40 94.66,372.40 97.96,372.40 100.82,372.40 103.34,372.40 105.60,372.40 120.44,373.30 129.12,370.20 135.28,370.20 140.06,370.20 143.96,374.00 147.26,374.00 150.12,374.00 152.64,374.00 154.90,362.20 169.74,355.80 178.42,359.00 184.58,353.30 189.36,342.60 193.26,340.30 196.56,338.00 199.42,336.20 201.94,333.80 204.20,332.00 219.04,324.40 227.72,320.00 233.88,314.80 238.66,310.70 242.56,307.00 245.86,304.00 248.72,301.50 251.24,299.50 253.50,298.20 268.34,280.60 277.02,275.10 283.18,266.00 287.96,262.00 291.86,259.00 295.16,256.00 298.02,253.50 300.54,251.00 302.80,249.10" fill="none" stroke="#0000ff" stroke-width="1.2" stroke-linejoin="round"/><path d="M56.30,375.10L58.80,370.36L53.80,370.36Z" fill="#0000ff"/><path d="M71.14,375.10L73.64,370.36L68.64,370.36Z" fill="#0000ff"/><path d="M79.82,375.10L82.32,370.36L77.32,370.36Z" fill="#0000ff"/><path d="M85.98,375.10L88.48,370.36L83.48,370.36Z" fill="#0000ff"/><path d="M90.76,375.10L93.26,370.36L88.26,370.36Z" fill="#0000ff"/><path d="M94.66,375.10L97.16,370.36L92.16,370.36Z" fill="#0000ff"/><path d="M97.96,375.10L100.46,370.36L95.46,370.36Z" fill="#0000ff"/><path d="M100.82,375.10L103.32,370.36L98.32,370.36Z" fill="#0000ff"/><path d="M103.34,375.10L105.84,370.36L100.84,370.36Z" fill="#0000ff"/><path d="M105.60,375.10L108.10,370.36L103.10,370.36Z" fill="#0000ff"/><path d="M120.44,376.00L122.94,371.26L117.94,371.26Z" fill="#0000ff"/><path d="M129.12,372.90L131.62,368.16L126.62,368.16Z" fill="#0000ff"/><path d="M135.28,372.90L137.78,368.16L132.78,368.16Z" fill="#0000ff"/><path d="M140.06,372.90L142.56,368.16L137.56,368.16Z" fill="#0000ff"/><path d="M143.96,376.70L146.46,371.96L141.46,371.96Z" fill="#0000ff"/><path d="M147.26,376.70L149.76,371.96L144.76,371.96Z" fill="#0000ff"/><path d="M150.12,376.70L152.62,371.96L147.62,371.96Z" fill="#0000ff"/><path d="M152.64,376.70L155.14,371.96L150.14,371.96Z" fill="#0000ff"/><path d="M154.90,364.90L157.40,360.16L152.40,360.16Z" fill="#0000ff"/><path d="M169.74,358.50L172.24,353.76L167.24,353.76Z" fill="#0000ff"/><path d="M178.42,361.70L180.92,356.96L175.92,356.96Z" fill="#0000ff"/><path d="M184.58,356.00L187.08,351.26L182.08,351.26Z" fill="#0000ff"/><path d="M189.36,345.30L191.86,340.56L186.86,340.56Z" fill="#0000ff"/><path d="M193.26,343.00L195.76,338.26L190.76,338.26Z" fill="#0000ff"/><path d="M196.56,340.70L199.06,335.96L194.06,335.96Z" fill="#0000ff"/><path d="M199.42,338.90L201.92,334.16L196.92,334.16Z" fill="#0000ff"/><path d="M201.94,336.50L204.44,331.76L199.44,331.76Z" fill="#0000ff"/><path d="M204.20,334.70L206.70,329.96L201.70,329.96Z" fill="#0000ff"/><path d="M219.04,327.10L221.54,322.36L216.54,322.36Z" fill="#0000ff"/><path d="M227.72,322.70L230.22,317.96L225.22,317.96Z" fill="#0000ff"/><path d="M233.88,317.50L236.38,312.76L231.38,312.76Z" fill="#0000ff"/><path d="M238.66,313.40L241.16,308.66L236.16,308.66Z" fill="#0000ff"/><path d="M242.56,309.70L245.06,304.96L240.06,304.96Z" fill="#0000ff"/><path d="M245.86,306.70L248.36,301.96L243.36,301.96Z" fill="#0000ff"/><path d="M248.72,304.20L251.22,299.46L246.22,299.46Z" fill="#0000ff"/><path d="M251.24,302.20L253.74,297.46L248.74,297.46Z" fill="#0000ff"/><path d="M253.50,300.90L256.00,296.16L251.00,296.16Z" fill="#0000ff"/><path d="M268.34,283.30L270.84,278.56L265.84,278.56Z" fill="#0000ff"/><path d="M277.02,277.80L279.52,273.06L274.52,273.06Z" fill="#0000ff"/><path d="M283.18,268.70L285.68,263.96L280.68,263.96Z" fill="#0000ff"/><path d="M287.96,264.70L290.46,259.96L285.46,259.96Z" fill="#0000ff"/><path d="M291.86,261.70L294.36,256.96L289.36,256.96Z" fill="#0000ff"/><path d="M295.16,258.70L297.66,253.96L292.66,253.96Z" fill="#0000ff"/><path d="M298.02,256.20L300.52,251.46L295.52,251.46Z" fill="#0000ff"/><path d="M300.54,253.70L303.04,248.96L298.04,248.96Z" fill="#0000ff"/><path d="M302.80,251.80L305.30,247.06L300.30,247.06Z" fill="#0000ff"/><polyline points="56.30,382.80 71.14,382.80 79.82,382.80 85.98,382.80 90.76,382.80 94.66,382.80 97.96,382.80 100.82,382.80 103.34,382.80 105.60,382.80 120.44,385.90 129.12,385.90 135.28,382.70 140.06,382.70 143.96,377.70 147.26,377.70 150.12,377.70 152.64,377.70 154.90,365.90 169.74,362.20 178.42,359.50 184.58,358.10 189.36,346.40 193.26,349.20 196.56,345.00 199.42,342.30 201.94,339.50 204.20,336.70 219.04,329.90 227.72,322.20 233.88,315.80 238.66,310.70 242.56,306.80 245.86,305.00 248.72,303.50 251.24,302.50 253.50,301.60 268.34,293.60 277.02,280.60 283.18,267.50 287.96,264.30 291.86,261.00 295.16,258.00 298.02,255.50 300.54,253.50 302.80,251.30" fill="none" stroke="#ff00ff" stroke-width="1.2" stroke-linejoin="round"/><path d="M56.30,380.00L59.10,382.80L56.30,385.60L53.50,382.80Z" fill="#ff00ff"/><path d="M71.14,380.00L73.94,382.80L71.14,385.60L68.34,382.80Z" fill="#ff00ff"/><path d="M79.82,380.00L82.62,382.80L79.82,385.60L77.02,382.80Z" fill="#ff00ff"/><path d="M85.98,380.00L88.78,382.80L85.98,385.60L83.18,382.80Z" fill="#ff00ff"/><path d="M90.76,380.00L93.56,382.80L90.76,385.60L87.96,382.80Z" fill="#ff00ff"/><path d="M94.66,380.00L97.46,382.80L94.66,385.60L91.86,382.80Z" fill="#ff00ff"/><path d="M97.96,380.00L100.76,382.80L97.96,385.60L95.16,382.80Z" fill="#ff00ff"/><path d="M100.82,380.00L103.62,382.80L100.82,385.60L98.02,382.80Z" fill="#ff00ff"/><path d="M103.34,380.00L106.14,382.80L103.34,385.60L100.54,382.80Z" fill="#ff00ff"/><path d="M105.60,380.00L108.40,382.80L105.60,385.60L102.80,382.80Z" fill="#ff00ff"/><path d="M120.44,383.10L123.24,385.90L120.44,388.70L117.64,385.90Z" fill="#ff00ff"/><path d="M129.12,383.10L131.92,385.90L129.12,388.70L126.32,385.90Z" fill="#ff00ff"/><path d="M135.28,379.90L138.08,382.70L135.28,385.50L132.48,382.70Z" fill="#ff00ff"/><path d="M140.06,379.90L142.86,382.70L140.06,385.50L137.26,382.70Z" fill="#ff00ff"/><path d="M143.96,374.90L146.76,377.70L143.96,380.50L141.16,377.70Z" fill="#ff00ff"/><path d="M147.26,374.90L150.06,377.70L147.26,380.50L144.46,377.70Z" fill="#ff00ff"/><path d="M150.12,374.90L152.92,377.70L150.12,380.50L147.32,377.70Z" fill="#ff00ff"/><path d="M152.64,374.90L155.44,377.70L152.64,380.50L149.84,377.70Z" fill="#ff00ff"/><path d="M154.90,363.10L157.70,365.90L154.90,368.70L152.10,365.90Z" fill="#ff00ff"/><path d="M169.74,359.40L172.54,362.20L169.74,365.00L166.94,362.20Z" fill="#ff00ff"/><path d="M178.42,356.70L181.22,359.50L178.42,362.30L175.62,359.50Z" fill="#ff00ff"/><path d="M184.58,355.30L187.38,358.10L184.58,360.90L181.78,358.10Z" fill="#ff00ff"/><path d="M189.36,343.60L192.16,346.40L189.36,349.20L186.56,346.40Z" fill="#ff00ff"/><path d="M193.26,346.40L196.06,349.20L193.26,352.00L190.46,349.20Z" fill="#ff00ff"/><path d="M196.56,342.20L199.36,345.00L196.56,347.80L193.76,345.00Z" fill="#ff00ff"/><path d="M199.42,339.50L202.22,342.30L199.42,345.10L196.62,342.30Z" fill="#ff00ff"/><path d="M201.94,336.70L204.74,339.50L201.94,342.30L199.14,339.50Z" fill="#ff00ff"/><path d="M204.20,333.90L207.00,336.70L204.20,339.50L201.40,336.70Z" fill="#ff00ff"/><path d="M219.04,327.10L221.84,329.90L219.04,332.70L216.24,329.90Z" fill="#ff00ff"/><path d="M227.72,319.40L230.52,322.20L227.72,325.00L224.92,322.20Z" fill="#ff00ff"/><path d="M233.88,313.00L236.68,315.80L233.88,318.60L231.08,315.80Z" fill="#ff00ff"/><path d="M238.66,307.90L241.46,310.70L238.66,313.50L235.86,310.70Z" fill="#ff00ff"/><path d="M242.56,304.00L245.36,306.80L242.56,309.60L239.76,306.80Z" fill="#ff00ff"/><path d="M245.86,302.20L248.66,305.00L245.86,307.80L243.06,305.00Z" fill="#ff00ff"/><path d="M248.72,300.70L251.52,303.50L248.72,306.30L245.92,303.50Z" fill="#ff00ff"/><path d="M251.24,299.70L254.04,302.50L251.24,305.30L248.44,302.50Z" fill="#ff00ff"/><path d="M253.50,298.80L256.30,301.60L253.50,304.40L250.70,301.60Z" fill="#ff00ff"/><path d="M268.34,290.80L271.14,293.60L268.34,296.40L265.54,293.60Z" fill="#ff00ff"/><path d="M277.02,277.80L279.82,280.60L277.02,283.40L274.22,280.60Z" fill="#ff00ff"/><path d="M283.18,264.70L285.98,267.50L283.18,270.30L280.38,267.50Z" fill="#ff00ff"/><path d="M287.96,261.50L290.76,264.30L287.96,267.10L285.16,264.30Z" fill="#ff00ff"/><path d="M291.86,258.20L294.66,261.00L291.86,263.80L289.06,261.00Z" fill="#ff00ff"/><path d="M295.16,255.20L297.96,258.00L295.16,260.80L292.36,258.00Z" fill="#ff00ff"/><path d="M298.02,252.70L300.82,255.50L298.02,258.30L295.22,255.50Z" fill="#ff00ff"/><path d="M300.54,250.70L303.34,253.50L300.54,256.30L297.74,253.50Z" fill="#ff00ff"/><path d="M302.80,248.50L305.60,251.30L302.80,254.10L300.00,251.30Z" fill="#ff00ff"/></g><rect x="56.3" y="240.0" width="251.09999999999997" height="154.0" fill="none" stroke="#111" stroke-width="1.5"/><line x1="52.699999999999996" y1="394.00" x2="56.3" y2="394.00" stroke="#000" stroke-width="1.2"/><line x1="303.79999999999995" y1="394.00" x2="307.4" y2="394.00" stroke="#000" stroke-width="1.2"/><text x="34.97" y="396.90" font-size="8.2" fill="#000" font-family="Liberation Serif, serif" font-weight="bold">10<tspan font-size="5.2" dy="-3.44" dx="0.6">-10</tspan></text><line x1="54.0" y1="382.41" x2="56.3" y2="382.41" stroke="#000" stroke-width="1"/><line x1="305.09999999999997" y1="382.41" x2="307.4" y2="382.41" stroke="#000" stroke-width="1"/><line x1="54.0" y1="375.63" x2="56.3" y2="375.63" stroke="#000" stroke-width="1"/><line x1="305.09999999999997" y1="375.63" x2="307.4" y2="375.63" stroke="#000" stroke-width="1"/><line x1="54.0" y1="370.82" x2="56.3" y2="370.82" stroke="#000" stroke-width="1"/><line x1="305.09999999999997" y1="370.82" x2="307.4" y2="370.82" stroke="#000" stroke-width="1"/><line x1="54.0" y1="367.09" x2="56.3" y2="367.09" stroke="#000" stroke-width="1"/><line x1="305.09999999999997" y1="367.09" x2="307.4" y2="367.09" stroke="#000" stroke-width="1"/><line x1="54.0" y1="364.04" x2="56.3" y2="364.04" stroke="#000" stroke-width="1"/><line x1="305.09999999999997" y1="364.04" x2="307.4" y2="364.04" stroke="#000" stroke-width="1"/><line x1="54.0" y1="361.46" x2="56.3" y2="361.46" stroke="#000" stroke-width="1"/><line x1="305.09999999999997" y1="361.46" x2="307.4" y2="361.46" stroke="#000" stroke-width="1"/><line x1="54.0" y1="359.23" x2="56.3" y2="359.23" stroke="#000" stroke-width="1"/><line x1="305.09999999999997" y1="359.23" x2="307.4" y2="359.23" stroke="#000" stroke-width="1"/><line x1="54.0" y1="357.26" x2="56.3" y2="357.26" stroke="#000" stroke-width="1"/><line x1="305.09999999999997" y1="357.26" x2="307.4" y2="357.26" stroke="#000" stroke-width="1"/><line x1="52.699999999999996" y1="355.50" x2="56.3" y2="355.50" stroke="#000" stroke-width="1.2"/><line x1="303.79999999999995" y1="355.50" x2="307.4" y2="355.50" stroke="#000" stroke-width="1.2"/><text x="37.57" y="358.40" font-size="8.2" fill="#000" font-family="Liberation Serif, serif" font-weight="bold">10<tspan font-size="5.2" dy="-3.44" dx="0.6">-9</tspan></text><line x1="54.0" y1="343.91" x2="56.3" y2="343.91" stroke="#000" stroke-width="1"/><line x1="305.09999999999997" y1="343.91" x2="307.4" y2="343.91" stroke="#000" stroke-width="1"/><line x1="54.0" y1="337.13" x2="56.3" y2="337.13" stroke="#000" stroke-width="1"/><line x1="305.09999999999997" y1="337.13" x2="307.4" y2="337.13" stroke="#000" stroke-width="1"/><line x1="54.0" y1="332.32" x2="56.3" y2="332.32" stroke="#000" stroke-width="1"/><line x1="305.09999999999997" y1="332.32" x2="307.4" y2="332.32" stroke="#000" stroke-width="1"/><line x1="54.0" y1="328.59" x2="56.3" y2="328.59" stroke="#000" stroke-width="1"/><line x1="305.09999999999997" y1="328.59" x2="307.4" y2="328.59" stroke="#000" stroke-width="1"/><line x1="54.0" y1="325.54" x2="56.3" y2="325.54" stroke="#000" stroke-width="1"/><line x1="305.09999999999997" y1="325.54" x2="307.4" y2="325.54" stroke="#000" stroke-width="1"/><line x1="54.0" y1="322.96" x2="56.3" y2="322.96" stroke="#000" stroke-width="1"/><line x1="305.09999999999997" y1="322.96" x2="307.4" y2="322.96" stroke="#000" stroke-width="1"/><line x1="54.0" y1="320.73" x2="56.3" y2="320.73" stroke="#000" stroke-width="1"/><line x1="305.09999999999997" y1="320.73" x2="307.4" y2="320.73" stroke="#000" stroke-width="1"/><line x1="54.0" y1="318.76" x2="56.3" y2="318.76" stroke="#000" stroke-width="1"/><line x1="305.09999999999997" y1="318.76" x2="307.4" y2="318.76" stroke="#000" stroke-width="1"/><line x1="52.699999999999996" y1="317.00" x2="56.3" y2="317.00" stroke="#000" stroke-width="1.2"/><line x1="303.79999999999995" y1="317.00" x2="307.4" y2="317.00" stroke="#000" stroke-width="1.2"/><text x="37.57" y="319.90" font-size="8.2" fill="#000" font-family="Liberation Serif, serif" font-weight="bold">10<tspan font-size="5.2" dy="-3.44" dx="0.6">-8</tspan></text><line x1="54.0" y1="305.41" x2="56.3" y2="305.41" stroke="#000" stroke-width="1"/><line x1="305.09999999999997" y1="305.41" x2="307.4" y2="305.41" stroke="#000" stroke-width="1"/><line x1="54.0" y1="298.63" x2="56.3" y2="298.63" stroke="#000" stroke-width="1"/><line x1="305.09999999999997" y1="298.63" x2="307.4" y2="298.63" stroke="#000" stroke-width="1"/><line x1="54.0" y1="293.82" x2="56.3" y2="293.82" stroke="#000" stroke-width="1"/><line x1="305.09999999999997" y1="293.82" x2="307.4" y2="293.82" stroke="#000" stroke-width="1"/><line x1="54.0" y1="290.09" x2="56.3" y2="290.09" stroke="#000" stroke-width="1"/><line x1="305.09999999999997" y1="290.09" x2="307.4" y2="290.09" stroke="#000" stroke-width="1"/><line x1="54.0" y1="287.04" x2="56.3" y2="287.04" stroke="#000" stroke-width="1"/><line x1="305.09999999999997" y1="287.04" x2="307.4" y2="287.04" stroke="#000" stroke-width="1"/><line x1="54.0" y1="284.46" x2="56.3" y2="284.46" stroke="#000" stroke-width="1"/><line x1="305.09999999999997" y1="284.46" x2="307.4" y2="284.46" stroke="#000" stroke-width="1"/><line x1="54.0" y1="282.23" x2="56.3" y2="282.23" stroke="#000" stroke-width="1"/><line x1="305.09999999999997" y1="282.23" x2="307.4" y2="282.23" stroke="#000" stroke-width="1"/><line x1="54.0" y1="280.26" x2="56.3" y2="280.26" stroke="#000" stroke-width="1"/><line x1="305.09999999999997" y1="280.26" x2="307.4" y2="280.26" stroke="#000" stroke-width="1"/><line x1="52.699999999999996" y1="278.50" x2="56.3" y2="278.50" stroke="#000" stroke-width="1.2"/><line x1="303.79999999999995" y1="278.50" x2="307.4" y2="278.50" stroke="#000" stroke-width="1.2"/><text x="37.57" y="281.40" font-size="8.2" fill="#000" font-family="Liberation Serif, serif" font-weight="bold">10<tspan font-size="5.2" dy="-3.44" dx="0.6">-7</tspan></text><line x1="54.0" y1="266.91" x2="56.3" y2="266.91" stroke="#000" stroke-width="1"/><line x1="305.09999999999997" y1="266.91" x2="307.4" y2="266.91" stroke="#000" stroke-width="1"/><line x1="54.0" y1="260.13" x2="56.3" y2="260.13" stroke="#000" stroke-width="1"/><line x1="305.09999999999997" y1="260.13" x2="307.4" y2="260.13" stroke="#000" stroke-width="1"/><line x1="54.0" y1="255.32" x2="56.3" y2="255.32" stroke="#000" stroke-width="1"/><line x1="305.09999999999997" y1="255.32" x2="307.4" y2="255.32" stroke="#000" stroke-width="1"/><line x1="54.0" y1="251.59" x2="56.3" y2="251.59" stroke="#000" stroke-width="1"/><line x1="305.09999999999997" y1="251.59" x2="307.4" y2="251.59" stroke="#000" stroke-width="1"/><line x1="54.0" y1="248.54" x2="56.3" y2="248.54" stroke="#000" stroke-width="1"/><line x1="305.09999999999997" y1="248.54" x2="307.4" y2="248.54" stroke="#000" stroke-width="1"/><line x1="54.0" y1="245.96" x2="56.3" y2="245.96" stroke="#000" stroke-width="1"/><line x1="305.09999999999997" y1="245.96" x2="307.4" y2="245.96" stroke="#000" stroke-width="1"/><line x1="54.0" y1="243.73" x2="56.3" y2="243.73" stroke="#000" stroke-width="1"/><line x1="305.09999999999997" y1="243.73" x2="307.4" y2="243.73" stroke="#000" stroke-width="1"/><line x1="54.0" y1="241.76" x2="56.3" y2="241.76" stroke="#000" stroke-width="1"/><line x1="305.09999999999997" y1="241.76" x2="307.4" y2="241.76" stroke="#000" stroke-width="1"/><line x1="52.699999999999996" y1="240.00" x2="56.3" y2="240.00" stroke="#000" stroke-width="1.2"/><line x1="303.79999999999995" y1="240.00" x2="307.4" y2="240.00" stroke="#000" stroke-width="1.2"/><text x="37.57" y="242.90" font-size="8.2" fill="#000" font-family="Liberation Serif, serif" font-weight="bold">10<tspan font-size="5.2" dy="-3.44" dx="0.6">-6</tspan></text><line x1="56.30" y1="394.00" x2="56.30" y2="398.00" stroke="#000" stroke-width="1.2"/><line x1="71.14" y1="394.00" x2="71.14" y2="396.60" stroke="#000" stroke-width="1"/><line x1="79.82" y1="394.00" x2="79.82" y2="396.60" stroke="#000" stroke-width="1"/><line x1="85.98" y1="394.00" x2="85.98" y2="396.60" stroke="#000" stroke-width="1"/><line x1="90.76" y1="394.00" x2="90.76" y2="396.60" stroke="#000" stroke-width="1"/><line x1="94.66" y1="394.00" x2="94.66" y2="396.60" stroke="#000" stroke-width="1"/><line x1="97.96" y1="394.00" x2="97.96" y2="396.60" stroke="#000" stroke-width="1"/><line x1="100.82" y1="394.00" x2="100.82" y2="396.60" stroke="#000" stroke-width="1"/><line x1="103.34" y1="394.00" x2="103.34" y2="396.60" stroke="#000" stroke-width="1"/><line x1="105.60" y1="394.00" x2="105.60" y2="398.00" stroke="#000" stroke-width="1.2"/><line x1="120.44" y1="394.00" x2="120.44" y2="396.60" stroke="#000" stroke-width="1"/><line x1="129.12" y1="394.00" x2="129.12" y2="396.60" stroke="#000" stroke-width="1"/><line x1="135.28" y1="394.00" x2="135.28" y2="396.60" stroke="#000" stroke-width="1"/><line x1="140.06" y1="394.00" x2="140.06" y2="396.60" stroke="#000" stroke-width="1"/><line x1="143.96" y1="394.00" x2="143.96" y2="396.60" stroke="#000" stroke-width="1"/><line x1="147.26" y1="394.00" x2="147.26" y2="396.60" stroke="#000" stroke-width="1"/><line x1="150.12" y1="394.00" x2="150.12" y2="396.60" stroke="#000" stroke-width="1"/><line x1="152.64" y1="394.00" x2="152.64" y2="396.60" stroke="#000" stroke-width="1"/><line x1="154.90" y1="394.00" x2="154.90" y2="398.00" stroke="#000" stroke-width="1.2"/><line x1="169.74" y1="394.00" x2="169.74" y2="396.60" stroke="#000" stroke-width="1"/><line x1="178.42" y1="394.00" x2="178.42" y2="396.60" stroke="#000" stroke-width="1"/><line x1="184.58" y1="394.00" x2="184.58" y2="396.60" stroke="#000" stroke-width="1"/><line x1="189.36" y1="394.00" x2="189.36" y2="396.60" stroke="#000" stroke-width="1"/><line x1="193.26" y1="394.00" x2="193.26" y2="396.60" stroke="#000" stroke-width="1"/><line x1="196.56" y1="394.00" x2="196.56" y2="396.60" stroke="#000" stroke-width="1"/><line x1="199.42" y1="394.00" x2="199.42" y2="396.60" stroke="#000" stroke-width="1"/><line x1="201.94" y1="394.00" x2="201.94" y2="396.60" stroke="#000" stroke-width="1"/><line x1="204.20" y1="394.00" x2="204.20" y2="398.00" stroke="#000" stroke-width="1.2"/><line x1="219.04" y1="394.00" x2="219.04" y2="396.60" stroke="#000" stroke-width="1"/><line x1="227.72" y1="394.00" x2="227.72" y2="396.60" stroke="#000" stroke-width="1"/><line x1="233.88" y1="394.00" x2="233.88" y2="396.60" stroke="#000" stroke-width="1"/><line x1="238.66" y1="394.00" x2="238.66" y2="396.60" stroke="#000" stroke-width="1"/><line x1="242.56" y1="394.00" x2="242.56" y2="396.60" stroke="#000" stroke-width="1"/><line x1="245.86" y1="394.00" x2="245.86" y2="396.60" stroke="#000" stroke-width="1"/><line x1="248.72" y1="394.00" x2="248.72" y2="396.60" stroke="#000" stroke-width="1"/><line x1="251.24" y1="394.00" x2="251.24" y2="396.60" stroke="#000" stroke-width="1"/><line x1="253.50" y1="394.00" x2="253.50" y2="398.00" stroke="#000" stroke-width="1.2"/><line x1="268.34" y1="394.00" x2="268.34" y2="396.60" stroke="#000" stroke-width="1"/><line x1="277.02" y1="394.00" x2="277.02" y2="396.60" stroke="#000" stroke-width="1"/><line x1="283.18" y1="394.00" x2="283.18" y2="396.60" stroke="#000" stroke-width="1"/><line x1="287.96" y1="394.00" x2="287.96" y2="396.60" stroke="#000" stroke-width="1"/><line x1="291.86" y1="394.00" x2="291.86" y2="396.60" stroke="#000" stroke-width="1"/><line x1="295.16" y1="394.00" x2="295.16" y2="396.60" stroke="#000" stroke-width="1"/><line x1="298.02" y1="394.00" x2="298.02" y2="396.60" stroke="#000" stroke-width="1"/><line x1="300.54" y1="394.00" x2="300.54" y2="396.60" stroke="#000" stroke-width="1"/><line x1="302.80" y1="394.00" x2="302.80" y2="398.00" stroke="#000" stroke-width="1.2"/><line x1="56.30" y1="240.00" x2="56.30" y2="243.50" stroke="#000" stroke-width="1.2"/><line x1="71.14" y1="240.00" x2="71.14" y2="242.30" stroke="#000" stroke-width="1"/><line x1="79.82" y1="240.00" x2="79.82" y2="242.30" stroke="#000" stroke-width="1"/><line x1="85.98" y1="240.00" x2="85.98" y2="242.30" stroke="#000" stroke-width="1"/><line x1="90.76" y1="240.00" x2="90.76" y2="242.30" stroke="#000" stroke-width="1"/><line x1="94.66" y1="240.00" x2="94.66" y2="242.30" stroke="#000" stroke-width="1"/><line x1="97.96" y1="240.00" x2="97.96" y2="242.30" stroke="#000" stroke-width="1"/><line x1="100.82" y1="240.00" x2="100.82" y2="242.30" stroke="#000" stroke-width="1"/><line x1="103.34" y1="240.00" x2="103.34" y2="242.30" stroke="#000" stroke-width="1"/><line x1="105.60" y1="240.00" x2="105.60" y2="243.50" stroke="#000" stroke-width="1.2"/><line x1="120.44" y1="240.00" x2="120.44" y2="242.30" stroke="#000" stroke-width="1"/><line x1="129.12" y1="240.00" x2="129.12" y2="242.30" stroke="#000" stroke-width="1"/><line x1="135.28" y1="240.00" x2="135.28" y2="242.30" stroke="#000" stroke-width="1"/><line x1="140.06" y1="240.00" x2="140.06" y2="242.30" stroke="#000" stroke-width="1"/><line x1="143.96" y1="240.00" x2="143.96" y2="242.30" stroke="#000" stroke-width="1"/><line x1="147.26" y1="240.00" x2="147.26" y2="242.30" stroke="#000" stroke-width="1"/><line x1="150.12" y1="240.00" x2="150.12" y2="242.30" stroke="#000" stroke-width="1"/><line x1="152.64" y1="240.00" x2="152.64" y2="242.30" stroke="#000" stroke-width="1"/><line x1="154.90" y1="240.00" x2="154.90" y2="243.50" stroke="#000" stroke-width="1.2"/><line x1="169.74" y1="240.00" x2="169.74" y2="242.30" stroke="#000" stroke-width="1"/><line x1="178.42" y1="240.00" x2="178.42" y2="242.30" stroke="#000" stroke-width="1"/><line x1="184.58" y1="240.00" x2="184.58" y2="242.30" stroke="#000" stroke-width="1"/><line x1="189.36" y1="240.00" x2="189.36" y2="242.30" stroke="#000" stroke-width="1"/><line x1="193.26" y1="240.00" x2="193.26" y2="242.30" stroke="#000" stroke-width="1"/><line x1="196.56" y1="240.00" x2="196.56" y2="242.30" stroke="#000" stroke-width="1"/><line x1="199.42" y1="240.00" x2="199.42" y2="242.30" stroke="#000" stroke-width="1"/><line x1="201.94" y1="240.00" x2="201.94" y2="242.30" stroke="#000" stroke-width="1"/><line x1="204.20" y1="240.00" x2="204.20" y2="243.50" stroke="#000" stroke-width="1.2"/><line x1="219.04" y1="240.00" x2="219.04" y2="242.30" stroke="#000" stroke-width="1"/><line x1="227.72" y1="240.00" x2="227.72" y2="242.30" stroke="#000" stroke-width="1"/><line x1="233.88" y1="240.00" x2="233.88" y2="242.30" stroke="#000" stroke-width="1"/><line x1="238.66" y1="240.00" x2="238.66" y2="242.30" stroke="#000" stroke-width="1"/><line x1="242.56" y1="240.00" x2="242.56" y2="242.30" stroke="#000" stroke-width="1"/><line x1="245.86" y1="240.00" x2="245.86" y2="242.30" stroke="#000" stroke-width="1"/><line x1="248.72" y1="240.00" x2="248.72" y2="242.30" stroke="#000" stroke-width="1"/><line x1="251.24" y1="240.00" x2="251.24" y2="242.30" stroke="#000" stroke-width="1"/><line x1="253.50" y1="240.00" x2="253.50" y2="243.50" stroke="#000" stroke-width="1.2"/><line x1="268.34" y1="240.00" x2="268.34" y2="242.30" stroke="#000" stroke-width="1"/><line x1="277.02" y1="240.00" x2="277.02" y2="242.30" stroke="#000" stroke-width="1"/><line x1="283.18" y1="240.00" x2="283.18" y2="242.30" stroke="#000" stroke-width="1"/><line x1="287.96" y1="240.00" x2="287.96" y2="242.30" stroke="#000" stroke-width="1"/><line x1="291.86" y1="240.00" x2="291.86" y2="242.30" stroke="#000" stroke-width="1"/><line x1="295.16" y1="240.00" x2="295.16" y2="242.30" stroke="#000" stroke-width="1"/><line x1="298.02" y1="240.00" x2="298.02" y2="242.30" stroke="#000" stroke-width="1"/><line x1="300.54" y1="240.00" x2="300.54" y2="242.30" stroke="#000" stroke-width="1"/><line x1="302.80" y1="240.00" x2="302.80" y2="243.50" stroke="#000" stroke-width="1.2"/><text x="50.60" y="410.00" font-size="8.2" fill="#000" font-family="Liberation Serif, serif" font-weight="bold">10<tspan font-size="5.2" dy="-3.44" dx="0.6">0</tspan></text><text x="99.90" y="410.00" font-size="8.2" fill="#000" font-family="Liberation Serif, serif" font-weight="bold">10<tspan font-size="5.2" dy="-3.44" dx="0.6">1</tspan></text><text x="149.20" y="410.00" font-size="8.2" fill="#000" font-family="Liberation Serif, serif" font-weight="bold">10<tspan font-size="5.2" dy="-3.44" dx="0.6">2</tspan></text><text x="198.50" y="410.00" font-size="8.2" fill="#000" font-family="Liberation Serif, serif" font-weight="bold">10<tspan font-size="5.2" dy="-3.44" dx="0.6">3</tspan></text><text x="247.80" y="410.00" font-size="8.2" fill="#000" font-family="Liberation Serif, serif" font-weight="bold">10<tspan font-size="5.2" dy="-3.44" dx="0.6">4</tspan></text><text x="297.10" y="410.00" font-size="8.2" fill="#000" font-family="Liberation Serif, serif" font-weight="bold">10<tspan font-size="5.2" dy="-3.44" dx="0.6">5</tspan></text><text x="182.00" y="424.80" font-size="9.2" text-anchor="middle" fill="#000" font-family="Liberation Serif, serif" font-weight="bold" >Frequency (Hz)</text><text x="0.00" y="0.00" font-size="9.4" text-anchor="middle" fill="#000" font-family="Liberation Serif, serif" font-weight="bold" transform="translate(28.3,322.4) rotate(-90)">Conductivity (S/m)</text><text x="12.50" y="248.00" font-size="17.6" text-anchor="start" fill="#000" font-family="Liberation Serif, serif" font-weight="bold" >(c)</text><line x1="60.9" y1="248.6" x2="68.0" y2="248.6" stroke="#000000" stroke-width="1.3"/><line x1="73.0" y1="248.6" x2="80.4" y2="248.6" stroke="#000000" stroke-width="1.3"/><rect x="68.50" y="246.70" width="3.80" height="3.80" fill="#000000"/><text x="83.20" y="251.80" font-size="9.2" text-anchor="start" fill="#000" font-family="Liberation Serif, serif" font-weight="bold" >0 wt%</text><line x1="60.9" y1="260.3" x2="68.0" y2="260.3" stroke="#ff0000" stroke-width="1.3"/><line x1="73.0" y1="260.3" x2="80.4" y2="260.3" stroke="#ff0000" stroke-width="1.3"/><circle cx="70.40" cy="260.30" r="1.99" fill="#ff0000"/><text x="83.20" y="263.50" font-size="9.2" text-anchor="start" fill="#000" font-family="Liberation Serif, serif" font-weight="bold" >5 wt%</text><line x1="60.9" y1="272.0" x2="68.0" y2="272.0" stroke="#00e000" stroke-width="1.3"/><line x1="73.0" y1="272.0" x2="80.4" y2="272.0" stroke="#00e000" stroke-width="1.3"/><path d="M70.40,269.42L72.78,273.94L68.03,273.94Z" fill="#00e000"/><text x="83.20" y="275.20" font-size="9.2" text-anchor="start" fill="#000" font-family="Liberation Serif, serif" font-weight="bold" >10 wt%</text><line x1="60.9" y1="283.7" x2="68.0" y2="283.7" stroke="#0000ff" stroke-width="1.3"/><line x1="73.0" y1="283.7" x2="80.4" y2="283.7" stroke="#0000ff" stroke-width="1.3"/><path d="M70.40,286.28L72.78,281.76L68.03,281.76Z" fill="#0000ff"/><text x="83.20" y="286.90" font-size="9.2" text-anchor="start" fill="#000" font-family="Liberation Serif, serif" font-weight="bold" >15 wt%</text><line x1="60.9" y1="295.4" x2="68.0" y2="295.4" stroke="#ff00ff" stroke-width="1.3"/><line x1="73.0" y1="295.4" x2="80.4" y2="295.4" stroke="#ff00ff" stroke-width="1.3"/><path d="M70.40,292.74L73.06,295.40L70.40,298.06L67.74,295.40Z" fill="#ff00ff"/><text x="83.20" y="298.60" font-size="9.2" text-anchor="start" fill="#000" font-family="Liberation Serif, serif" font-weight="bold" >20 wt%</text><line x1="457.0" y1="242.4" x2="699.4" y2="242.4" stroke="#111" stroke-width="1.5"/><line x1="457.0" y1="391.6" x2="699.4" y2="391.6" stroke="#111" stroke-width="1.5"/><line x1="457.0" y1="241.70000000000002" x2="457.0" y2="392.3" stroke="#8b1a1a" stroke-width="1.5"/><line x1="699.4" y1="241.70000000000002" x2="699.4" y2="392.3" stroke="#0000ee" stroke-width="1.5"/><line x1="481.40" y1="391.6" x2="481.40" y2="395.6" stroke="#000" stroke-width="1.2"/><line x1="481.40" y1="242.4" x2="481.40" y2="246.4" stroke="#000" stroke-width="1.2"/><text x="481.40" y="404.60" font-size="8.0" text-anchor="middle" fill="#000" font-family="Liberation Serif, serif" font-weight="bold" >0</text><line x1="505.70" y1="391.6" x2="505.70" y2="394.20000000000005" stroke="#000" stroke-width="1.2"/><line x1="505.70" y1="242.4" x2="505.70" y2="245.0" stroke="#000" stroke-width="1.2"/><line x1="530.00" y1="391.6" x2="530.00" y2="395.6" stroke="#000" stroke-width="1.2"/><line x1="530.00" y1="242.4" x2="530.00" y2="246.4" stroke="#000" stroke-width="1.2"/><text x="530.00" y="404.60" font-size="8.0" text-anchor="middle" fill="#000" font-family="Liberation Serif, serif" font-weight="bold" >5</text><line x1="554.30" y1="391.6" x2="554.30" y2="394.20000000000005" stroke="#000" stroke-width="1.2"/><line x1="554.30" y1="242.4" x2="554.30" y2="245.0" stroke="#000" stroke-width="1.2"/><line x1="578.60" y1="391.6" x2="578.60" y2="395.6" stroke="#000" stroke-width="1.2"/><line x1="578.60" y1="242.4" x2="578.60" y2="246.4" stroke="#000" stroke-width="1.2"/><text x="578.60" y="404.60" font-size="8.0" text-anchor="middle" fill="#000" font-family="Liberation Serif, serif" font-weight="bold" >10</text><line x1="602.90" y1="391.6" x2="602.90" y2="394.20000000000005" stroke="#000" stroke-width="1.2"/><line x1="602.90" y1="242.4" x2="602.90" y2="245.0" stroke="#000" stroke-width="1.2"/><line x1="627.20" y1="391.6" x2="627.20" y2="395.6" stroke="#000" stroke-width="1.2"/><line x1="627.20" y1="242.4" x2="627.20" y2="246.4" stroke="#000" stroke-width="1.2"/><text x="627.20" y="404.60" font-size="8.0" text-anchor="middle" fill="#000" font-family="Liberation Serif, serif" font-weight="bold" >15</text><line x1="651.50" y1="391.6" x2="651.50" y2="394.20000000000005" stroke="#000" stroke-width="1.2"/><line x1="651.50" y1="242.4" x2="651.50" y2="245.0" stroke="#000" stroke-width="1.2"/><line x1="675.80" y1="391.6" x2="675.80" y2="395.6" stroke="#000" stroke-width="1.2"/><line x1="675.80" y1="242.4" x2="675.80" y2="246.4" stroke="#000" stroke-width="1.2"/><text x="675.80" y="404.60" font-size="8.0" text-anchor="middle" fill="#000" font-family="Liberation Serif, serif" font-weight="bold" >20</text><line x1="454.8" y1="391.85" x2="457.0" y2="391.85" stroke="#8b1a1a" stroke-width="1.2"/><line x1="453.4" y1="382.50" x2="457.0" y2="382.50" stroke="#8b1a1a" stroke-width="1.2"/><text x="451.80" y="385.30" font-size="8.0" text-anchor="end" fill="#8b1a1a" font-family="Liberation Serif, serif" font-weight="bold" >5</text><line x1="454.8" y1="373.15" x2="457.0" y2="373.15" stroke="#8b1a1a" stroke-width="1.2"/><line x1="453.4" y1="363.80" x2="457.0" y2="363.80" stroke="#8b1a1a" stroke-width="1.2"/><text x="451.80" y="366.60" font-size="8.0" text-anchor="end" fill="#8b1a1a" font-family="Liberation Serif, serif" font-weight="bold" >6</text><line x1="454.8" y1="354.45" x2="457.0" y2="354.45" stroke="#8b1a1a" stroke-width="1.2"/><line x1="453.4" y1="345.10" x2="457.0" y2="345.10" stroke="#8b1a1a" stroke-width="1.2"/><text x="451.80" y="347.90" font-size="8.0" text-anchor="end" fill="#8b1a1a" font-family="Liberation Serif, serif" font-weight="bold" >7</text><line x1="454.8" y1="335.75" x2="457.0" y2="335.75" stroke="#8b1a1a" stroke-width="1.2"/><line x1="453.4" y1="326.40" x2="457.0" y2="326.40" stroke="#8b1a1a" stroke-width="1.2"/><text x="451.80" y="329.20" font-size="8.0" text-anchor="end" fill="#8b1a1a" font-family="Liberation Serif, serif" font-weight="bold" >8</text><line x1="454.8" y1="317.05" x2="457.0" y2="317.05" stroke="#8b1a1a" stroke-width="1.2"/><line x1="453.4" y1="307.70" x2="457.0" y2="307.70" stroke="#8b1a1a" stroke-width="1.2"/><text x="451.80" y="310.50" font-size="8.0" text-anchor="end" fill="#8b1a1a" font-family="Liberation Serif, serif" font-weight="bold" >9</text><line x1="454.8" y1="298.35" x2="457.0" y2="298.35" stroke="#8b1a1a" stroke-width="1.2"/><line x1="453.4" y1="289.00" x2="457.0" y2="289.00" stroke="#8b1a1a" stroke-width="1.2"/><text x="451.80" y="291.80" font-size="8.0" text-anchor="end" fill="#8b1a1a" font-family="Liberation Serif, serif" font-weight="bold" >10</text><line x1="454.8" y1="279.65" x2="457.0" y2="279.65" stroke="#8b1a1a" stroke-width="1.2"/><line x1="453.4" y1="270.30" x2="457.0" y2="270.30" stroke="#8b1a1a" stroke-width="1.2"/><text x="451.80" y="273.10" font-size="8.0" text-anchor="end" fill="#8b1a1a" font-family="Liberation Serif, serif" font-weight="bold" >11</text><line x1="454.8" y1="260.95" x2="457.0" y2="260.95" stroke="#8b1a1a" stroke-width="1.2"/><line x1="453.4" y1="251.60" x2="457.0" y2="251.60" stroke="#8b1a1a" stroke-width="1.2"/><text x="451.80" y="254.40" font-size="8.0" text-anchor="end" fill="#8b1a1a" font-family="Liberation Serif, serif" font-weight="bold" >12</text><line x1="699.4" y1="390.90" x2="701.6" y2="390.90" stroke="#0000ee" stroke-width="1.2"/><line x1="699.4" y1="381.00" x2="703.0" y2="381.00" stroke="#0000ee" stroke-width="1.2"/><text x="704.80" y="383.80" font-size="8.0" text-anchor="start" fill="#1a1ad0" font-family="Liberation Serif, serif" font-weight="bold" >34</text><line x1="699.4" y1="371.10" x2="701.6" y2="371.10" stroke="#0000ee" stroke-width="1.2"/><line x1="699.4" y1="361.20" x2="703.0" y2="361.20" stroke="#0000ee" stroke-width="1.2"/><text x="704.80" y="364.00" font-size="8.0" text-anchor="start" fill="#1a1ad0" font-family="Liberation Serif, serif" font-weight="bold" >36</text><line x1="699.4" y1="351.30" x2="701.6" y2="351.30" stroke="#0000ee" stroke-width="1.2"/><line x1="699.4" y1="341.40" x2="703.0" y2="341.40" stroke="#0000ee" stroke-width="1.2"/><text x="704.80" y="344.20" font-size="8.0" text-anchor="start" fill="#1a1ad0" font-family="Liberation Serif, serif" font-weight="bold" >38</text><line x1="699.4" y1="331.50" x2="701.6" y2="331.50" stroke="#0000ee" stroke-width="1.2"/><line x1="699.4" y1="321.60" x2="703.0" y2="321.60" stroke="#0000ee" stroke-width="1.2"/><text x="704.80" y="324.40" font-size="8.0" text-anchor="start" fill="#1a1ad0" font-family="Liberation Serif, serif" font-weight="bold" >40</text><line x1="699.4" y1="311.70" x2="701.6" y2="311.70" stroke="#0000ee" stroke-width="1.2"/><line x1="699.4" y1="301.80" x2="703.0" y2="301.80" stroke="#0000ee" stroke-width="1.2"/><text x="704.80" y="304.60" font-size="8.0" text-anchor="start" fill="#1a1ad0" font-family="Liberation Serif, serif" font-weight="bold" >42</text><line x1="699.4" y1="291.90" x2="701.6" y2="291.90" stroke="#0000ee" stroke-width="1.2"/><line x1="699.4" y1="282.00" x2="703.0" y2="282.00" stroke="#0000ee" stroke-width="1.2"/><text x="704.80" y="284.80" font-size="8.0" text-anchor="start" fill="#1a1ad0" font-family="Liberation Serif, serif" font-weight="bold" >44</text><line x1="699.4" y1="272.10" x2="701.6" y2="272.10" stroke="#0000ee" stroke-width="1.2"/><line x1="699.4" y1="262.20" x2="703.0" y2="262.20" stroke="#0000ee" stroke-width="1.2"/><text x="704.80" y="265.00" font-size="8.0" text-anchor="start" fill="#1a1ad0" font-family="Liberation Serif, serif" font-weight="bold" >46</text><line x1="699.4" y1="252.30" x2="701.6" y2="252.30" stroke="#0000ee" stroke-width="1.2"/><line x1="699.4" y1="242.40" x2="703.0" y2="242.40" stroke="#0000ee" stroke-width="1.2"/><text x="704.80" y="245.20" font-size="8.0" text-anchor="start" fill="#1a1ad0" font-family="Liberation Serif, serif" font-weight="bold" >48</text><polyline points="481.40,377.26 530.00,355.38 578.60,326.40 627.20,317.61 675.80,258.33" fill="none" stroke="#8b1a1a" stroke-width="1.2"/><polyline points="481.40,377.04 530.00,321.20 578.60,296.36 627.20,270.12 675.80,248.34" fill="none" stroke="#0000ff" stroke-width="1.2"/><path d="M481.40,373.84L484.65,379.92L478.15,379.92Z" fill="#8b1a1a"/><path d="M530.00,351.96L533.25,358.04L526.75,358.04Z" fill="#8b1a1a"/><path d="M578.60,322.98L581.85,329.05L575.35,329.05Z" fill="#8b1a1a"/><path d="M627.20,314.19L630.45,320.26L623.95,320.26Z" fill="#8b1a1a"/><path d="M675.80,254.91L679.05,260.98L672.55,260.98Z" fill="#8b1a1a"/><rect x="478.90" y="374.54" width="5.00" height="5.00" fill="#0000ff"/><rect x="527.50" y="318.70" width="5.00" height="5.00" fill="#0000ff"/><rect x="576.10" y="293.86" width="5.00" height="5.00" fill="#0000ff"/><rect x="624.70" y="267.62" width="5.00" height="5.00" fill="#0000ff"/><rect x="673.30" y="245.84" width="5.00" height="5.00" fill="#0000ff"/><rect x="464.3" y="249.6" width="114.4" height="23" fill="#000"/><rect x="462.3" y="247.6" width="114.4" height="22.8" fill="#fff" stroke="#888" stroke-width="0.8"/><line x1="463.2" y1="255.2" x2="475.9" y2="255.2" stroke="#8b1a1a" stroke-width="1.3"/><path d="M469.60,252.06L472.35,257.24L466.85,257.24Z" fill="#8b1a1a"/><text x="478.40" y="257.00" font-size="8.9" text-anchor="start" fill="#8b1a1a" font-family="Liberation Serif, serif" font-weight="bold" >Dielectric constant (1 Hz)</text><line x1="463.2" y1="266.4" x2="475.9" y2="266.4" stroke="#0000ff" stroke-width="1.3"/><rect x="467.40" y="264.20" width="4.40" height="4.40" fill="#0000ff"/><text x="480.50" y="268.20" font-size="8.4" text-anchor="start" fill="#3838d8" font-family="Liberation Serif, serif" font-weight="bold" >&#946; (%)</text><text x="578.30" y="419.50" font-size="9.0" text-anchor="middle" fill="#000" font-family="Liberation Serif, serif" font-weight="bold" >ZnO content (wt%)</text><text x="0.00" y="0.00" font-size="9.0" text-anchor="middle" fill="#8b1a1a" font-family="Liberation Serif, serif" font-weight="bold" transform="translate(435.4,320.5) rotate(-90)">Dielectric constant (1 Hz)</text><text x="0.00" y="0.00" font-size="9.0" text-anchor="middle" fill="#3838d8" font-family="Liberation Serif, serif" font-weight="bold" transform="translate(719.6,323.5) rotate(90)">&#946; (%)</text><text x="422.50" y="249.60" font-size="13.2" text-anchor="start" fill="#000" font-family="Liberation Serif, serif" font-weight="bold" >(d)</text></svg></body></html>
